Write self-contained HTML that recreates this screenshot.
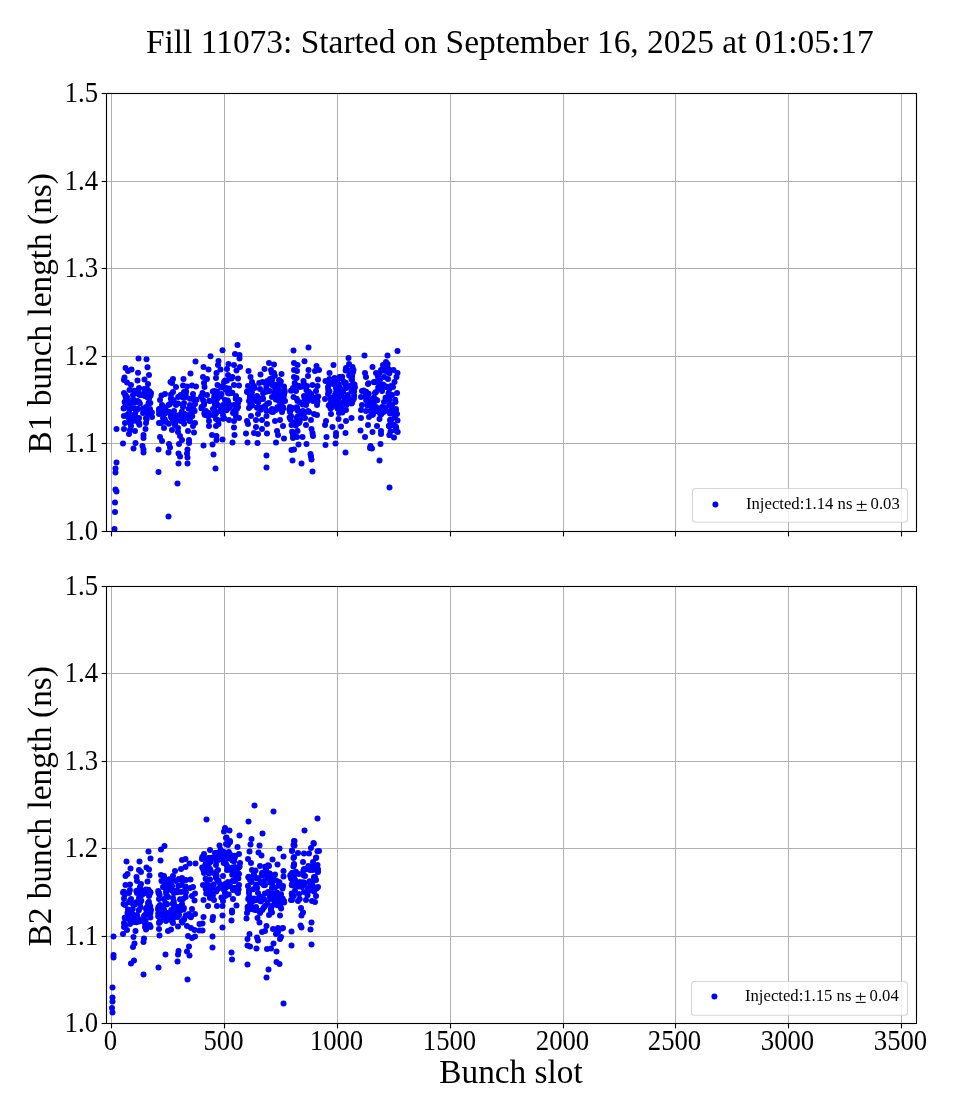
<!DOCTYPE html>
<html><head><meta charset="utf-8"><style>
html,body{margin:0;padding:0;width:960px;height:1120px;overflow:hidden;background:#fff}
svg text{font-family:"Liberation Serif",serif}
svg{will-change:transform}
</style></head><body>
<svg width="960" height="1120" viewBox="0 0 960 1120" style="position:absolute;left:0;top:0">
<rect width="960" height="1120" fill="#fff"/>
<text x="509.8" y="52.6" text-anchor="middle" font-size="33.45" fill="#000">Fill 11073: Started on September 16, 2025 at 01:05:17</text>
<clipPath id="cliptop"><rect x="106.5" y="93.5" width="810" height="438.0"/></clipPath>
<g stroke="#b0b0b0" stroke-width="1" shape-rendering="crispEdges">
<line x1="111.5" y1="93.5" x2="111.5" y2="531.5"/>
<line x1="224.5" y1="93.5" x2="224.5" y2="531.5"/>
<line x1="337.5" y1="93.5" x2="337.5" y2="531.5"/>
<line x1="450.5" y1="93.5" x2="450.5" y2="531.5"/>
<line x1="563.5" y1="93.5" x2="563.5" y2="531.5"/>
<line x1="675.5" y1="93.5" x2="675.5" y2="531.5"/>
<line x1="788.5" y1="93.5" x2="788.5" y2="531.5"/>
<line x1="901.5" y1="93.5" x2="901.5" y2="531.5"/>
<line x1="106.5" y1="93.5" x2="916.5" y2="93.5"/>
<line x1="106.5" y1="181.5" x2="916.5" y2="181.5"/>
<line x1="106.5" y1="268.5" x2="916.5" y2="268.5"/>
<line x1="106.5" y1="356.5" x2="916.5" y2="356.5"/>
<line x1="106.5" y1="443.5" x2="916.5" y2="443.5"/>
<line x1="106.5" y1="531.5" x2="916.5" y2="531.5"/>
</g>
<g fill="#0000ff" clip-path="url(#cliptop)">
<circle cx="138.5" cy="358.5" r="3.0"/>
<circle cx="146.5" cy="359.2" r="3.0"/>
<circle cx="147.5" cy="367.2" r="3.0"/>
<circle cx="125.5" cy="368.0" r="3.0"/>
<circle cx="128.0" cy="371.0" r="3.0"/>
<circle cx="131.5" cy="369.5" r="3.0"/>
<circle cx="138.0" cy="372.8" r="3.0"/>
<circle cx="149.0" cy="375.0" r="3.0"/>
<circle cx="137.5" cy="380.5" r="3.0"/>
<circle cx="144.5" cy="379.5" r="3.0"/>
<circle cx="124.5" cy="377.5" r="3.0"/>
<circle cx="124.0" cy="380.0" r="3.0"/>
<circle cx="127.0" cy="382.5" r="3.0"/>
<circle cx="131.0" cy="385.0" r="3.0"/>
<circle cx="148.0" cy="384.0" r="3.0"/>
<circle cx="139.0" cy="388.0" r="3.0"/>
<circle cx="147.0" cy="389.0" r="3.0"/>
<circle cx="129.5" cy="390.0" r="3.0"/>
<circle cx="124.0" cy="393.0" r="3.0"/>
<circle cx="151.0" cy="393.0" r="3.0"/>
<circle cx="140.0" cy="394.0" r="3.0"/>
<circle cx="127.0" cy="397.0" r="3.0"/>
<circle cx="133.0" cy="395.0" r="3.0"/>
<circle cx="149.0" cy="397.0" r="3.0"/>
<circle cx="126.0" cy="401.0" r="3.0"/>
<circle cx="134.0" cy="400.0" r="3.0"/>
<circle cx="139.0" cy="402.0" r="3.0"/>
<circle cx="149.0" cy="403.0" r="3.0"/>
<circle cx="130.0" cy="404.0" r="3.0"/>
<circle cx="124.0" cy="408.0" r="3.0"/>
<circle cx="132.0" cy="408.0" r="3.0"/>
<circle cx="138.0" cy="409.0" r="3.0"/>
<circle cx="146.0" cy="407.0" r="3.0"/>
<circle cx="150.0" cy="409.0" r="3.0"/>
<circle cx="127.0" cy="415.0" r="3.0"/>
<circle cx="135.0" cy="414.0" r="3.0"/>
<circle cx="143.0" cy="413.0" r="3.0"/>
<circle cx="150.0" cy="415.0" r="3.0"/>
<circle cx="152.0" cy="417.0" r="3.0"/>
<circle cx="131.0" cy="418.0" r="3.0"/>
<circle cx="139.0" cy="418.0" r="3.0"/>
<circle cx="146.0" cy="418.0" r="3.0"/>
<circle cx="125.0" cy="423.0" r="3.0"/>
<circle cx="133.0" cy="421.0" r="3.0"/>
<circle cx="139.0" cy="423.0" r="3.0"/>
<circle cx="146.0" cy="423.0" r="3.0"/>
<circle cx="131.0" cy="426.0" r="3.0"/>
<circle cx="124.0" cy="429.0" r="3.0"/>
<circle cx="130.0" cy="430.0" r="3.0"/>
<circle cx="135.0" cy="431.0" r="3.0"/>
<circle cx="129.0" cy="434.0" r="3.0"/>
<circle cx="145.5" cy="429.0" r="3.0"/>
<circle cx="143.5" cy="435.0" r="3.0"/>
<circle cx="143.5" cy="438.0" r="3.0"/>
<circle cx="116.5" cy="429.0" r="3.0"/>
<circle cx="123.0" cy="443.5" r="3.0"/>
<circle cx="135.5" cy="443.0" r="3.0"/>
<circle cx="142.5" cy="446.0" r="3.0"/>
<circle cx="195.5" cy="361.5" r="3.0"/>
<circle cx="190.5" cy="373.5" r="3.0"/>
<circle cx="173.0" cy="379.0" r="3.0"/>
<circle cx="170.5" cy="382.0" r="3.0"/>
<circle cx="183.5" cy="379.0" r="3.0"/>
<circle cx="176.0" cy="387.0" r="3.0"/>
<circle cx="172.0" cy="383.0" r="3.0"/>
<circle cx="183.0" cy="385.5" r="3.0"/>
<circle cx="187.0" cy="386.5" r="3.0"/>
<circle cx="192.0" cy="385.5" r="3.0"/>
<circle cx="196.0" cy="386.5" r="3.0"/>
<circle cx="161.5" cy="395.5" r="3.0"/>
<circle cx="165.0" cy="394.0" r="3.0"/>
<circle cx="173.0" cy="392.0" r="3.0"/>
<circle cx="184.0" cy="392.0" r="3.0"/>
<circle cx="171.0" cy="394.5" r="3.0"/>
<circle cx="193.0" cy="394.0" r="3.0"/>
<circle cx="182.0" cy="397.0" r="3.0"/>
<circle cx="186.0" cy="397.0" r="3.0"/>
<circle cx="160.0" cy="400.0" r="3.0"/>
<circle cx="194.0" cy="399.0" r="3.0"/>
<circle cx="173.0" cy="400.0" r="3.0"/>
<circle cx="170.0" cy="404.0" r="3.0"/>
<circle cx="176.0" cy="405.0" r="3.0"/>
<circle cx="162.0" cy="405.0" r="3.0"/>
<circle cx="190.0" cy="405.0" r="3.0"/>
<circle cx="195.0" cy="404.0" r="3.0"/>
<circle cx="183.0" cy="407.0" r="3.0"/>
<circle cx="159.0" cy="409.0" r="3.0"/>
<circle cx="164.0" cy="408.0" r="3.0"/>
<circle cx="169.0" cy="412.0" r="3.0"/>
<circle cx="174.0" cy="411.0" r="3.0"/>
<circle cx="192.0" cy="411.0" r="3.0"/>
<circle cx="159.0" cy="414.0" r="3.0"/>
<circle cx="181.0" cy="414.0" r="3.0"/>
<circle cx="188.0" cy="415.0" r="3.0"/>
<circle cx="163.0" cy="418.0" r="3.0"/>
<circle cx="171.0" cy="417.0" r="3.0"/>
<circle cx="177.0" cy="418.0" r="3.0"/>
<circle cx="184.0" cy="419.0" r="3.0"/>
<circle cx="159.0" cy="423.0" r="3.0"/>
<circle cx="166.0" cy="422.0" r="3.0"/>
<circle cx="174.0" cy="422.0" r="3.0"/>
<circle cx="181.0" cy="421.0" r="3.0"/>
<circle cx="190.0" cy="421.0" r="3.0"/>
<circle cx="195.0" cy="423.0" r="3.0"/>
<circle cx="164.0" cy="428.0" r="3.0"/>
<circle cx="172.0" cy="430.0" r="3.0"/>
<circle cx="178.0" cy="428.0" r="3.0"/>
<circle cx="193.0" cy="426.0" r="3.0"/>
<circle cx="188.0" cy="431.0" r="3.0"/>
<circle cx="194.0" cy="432.5" r="3.0"/>
<circle cx="160.0" cy="437.0" r="3.0"/>
<circle cx="162.0" cy="441.0" r="3.0"/>
<circle cx="178.0" cy="432.0" r="3.0"/>
<circle cx="180.0" cy="436.0" r="3.0"/>
<circle cx="182.0" cy="440.0" r="3.0"/>
<circle cx="189.0" cy="440.0" r="3.0"/>
<circle cx="169.0" cy="444.0" r="3.0"/>
<circle cx="179.0" cy="444.0" r="3.0"/>
<circle cx="189.0" cy="443.0" r="3.0"/>
<circle cx="237.5" cy="345.0" r="3.0"/>
<circle cx="222.5" cy="350.2" r="3.0"/>
<circle cx="210.5" cy="356.2" r="3.0"/>
<circle cx="235.0" cy="354.0" r="3.0"/>
<circle cx="239.5" cy="355.0" r="3.0"/>
<circle cx="239.5" cy="358.5" r="3.0"/>
<circle cx="218.5" cy="361.0" r="3.0"/>
<circle cx="218.0" cy="365.0" r="3.0"/>
<circle cx="203.5" cy="367.0" r="3.0"/>
<circle cx="208.5" cy="369.5" r="3.0"/>
<circle cx="228.5" cy="364.0" r="3.0"/>
<circle cx="234.0" cy="365.0" r="3.0"/>
<circle cx="240.0" cy="367.0" r="3.0"/>
<circle cx="236.5" cy="370.5" r="3.0"/>
<circle cx="220.5" cy="369.5" r="3.0"/>
<circle cx="227.0" cy="369.0" r="3.0"/>
<circle cx="216.5" cy="373.0" r="3.0"/>
<circle cx="203.0" cy="377.0" r="3.0"/>
<circle cx="207.0" cy="379.0" r="3.0"/>
<circle cx="216.0" cy="378.0" r="3.0"/>
<circle cx="228.0" cy="375.0" r="3.0"/>
<circle cx="238.0" cy="378.5" r="3.0"/>
<circle cx="204.0" cy="383.0" r="3.0"/>
<circle cx="204.5" cy="387.0" r="3.0"/>
<circle cx="217.5" cy="385.0" r="3.0"/>
<circle cx="234.0" cy="385.0" r="3.0"/>
<circle cx="239.0" cy="385.5" r="3.0"/>
<circle cx="224.0" cy="382.0" r="3.0"/>
<circle cx="214.5" cy="391.0" r="3.0"/>
<circle cx="202.5" cy="393.0" r="3.0"/>
<circle cx="226.0" cy="388.0" r="3.0"/>
<circle cx="236.0" cy="396.0" r="3.0"/>
<circle cx="207.0" cy="395.0" r="3.0"/>
<circle cx="220.0" cy="395.0" r="3.0"/>
<circle cx="228.0" cy="393.0" r="3.0"/>
<circle cx="203.0" cy="400.0" r="3.0"/>
<circle cx="210.0" cy="401.0" r="3.0"/>
<circle cx="217.0" cy="399.0" r="3.0"/>
<circle cx="225.0" cy="400.0" r="3.0"/>
<circle cx="238.0" cy="403.0" r="3.0"/>
<circle cx="204.0" cy="405.0" r="3.0"/>
<circle cx="215.0" cy="405.0" r="3.0"/>
<circle cx="223.0" cy="405.0" r="3.0"/>
<circle cx="234.0" cy="405.0" r="3.0"/>
<circle cx="206.0" cy="411.0" r="3.0"/>
<circle cx="213.0" cy="409.0" r="3.0"/>
<circle cx="220.0" cy="411.0" r="3.0"/>
<circle cx="229.0" cy="408.0" r="3.0"/>
<circle cx="238.0" cy="407.0" r="3.0"/>
<circle cx="205.0" cy="415.0" r="3.0"/>
<circle cx="213.0" cy="415.0" r="3.0"/>
<circle cx="223.0" cy="415.0" r="3.0"/>
<circle cx="233.0" cy="413.0" r="3.0"/>
<circle cx="229.0" cy="420.0" r="3.0"/>
<circle cx="234.0" cy="421.0" r="3.0"/>
<circle cx="239.0" cy="418.0" r="3.0"/>
<circle cx="209.0" cy="421.0" r="3.0"/>
<circle cx="216.0" cy="419.0" r="3.0"/>
<circle cx="209.0" cy="426.0" r="3.0"/>
<circle cx="216.0" cy="426.0" r="3.0"/>
<circle cx="218.5" cy="424.0" r="3.0"/>
<circle cx="234.0" cy="427.5" r="3.0"/>
<circle cx="212.0" cy="435.0" r="3.0"/>
<circle cx="216.5" cy="436.0" r="3.0"/>
<circle cx="216.5" cy="440.0" r="3.0"/>
<circle cx="222.5" cy="439.5" r="3.0"/>
<circle cx="234.5" cy="435.0" r="3.0"/>
<circle cx="232.5" cy="442.5" r="3.0"/>
<circle cx="212.5" cy="444.5" r="3.0"/>
<circle cx="203.5" cy="445.5" r="3.0"/>
<circle cx="269.0" cy="363.0" r="3.0"/>
<circle cx="274.0" cy="364.5" r="3.0"/>
<circle cx="248.5" cy="371.0" r="3.0"/>
<circle cx="264.5" cy="369.0" r="3.0"/>
<circle cx="260.5" cy="374.5" r="3.0"/>
<circle cx="271.0" cy="370.0" r="3.0"/>
<circle cx="274.0" cy="373.0" r="3.0"/>
<circle cx="281.5" cy="374.0" r="3.0"/>
<circle cx="250.5" cy="377.0" r="3.0"/>
<circle cx="252.0" cy="382.0" r="3.0"/>
<circle cx="262.5" cy="382.0" r="3.0"/>
<circle cx="270.0" cy="379.0" r="3.0"/>
<circle cx="279.0" cy="380.0" r="3.0"/>
<circle cx="248.0" cy="386.0" r="3.0"/>
<circle cx="254.0" cy="386.0" r="3.0"/>
<circle cx="284.0" cy="386.5" r="3.0"/>
<circle cx="272.0" cy="385.0" r="3.0"/>
<circle cx="260.0" cy="389.0" r="3.0"/>
<circle cx="247.0" cy="392.0" r="3.0"/>
<circle cx="266.0" cy="391.0" r="3.0"/>
<circle cx="278.0" cy="391.0" r="3.0"/>
<circle cx="284.0" cy="395.0" r="3.0"/>
<circle cx="250.0" cy="395.0" r="3.0"/>
<circle cx="257.0" cy="396.0" r="3.0"/>
<circle cx="272.0" cy="397.0" r="3.0"/>
<circle cx="263.0" cy="399.0" r="3.0"/>
<circle cx="249.0" cy="401.0" r="3.0"/>
<circle cx="256.0" cy="401.0" r="3.0"/>
<circle cx="269.0" cy="403.0" r="3.0"/>
<circle cx="279.0" cy="401.0" r="3.0"/>
<circle cx="285.0" cy="401.0" r="3.0"/>
<circle cx="249.0" cy="408.0" r="3.0"/>
<circle cx="258.0" cy="407.0" r="3.0"/>
<circle cx="265.0" cy="406.0" r="3.0"/>
<circle cx="272.0" cy="409.0" r="3.0"/>
<circle cx="280.0" cy="409.0" r="3.0"/>
<circle cx="283.0" cy="407.0" r="3.0"/>
<circle cx="251.0" cy="416.0" r="3.0"/>
<circle cx="258.0" cy="414.0" r="3.0"/>
<circle cx="266.5" cy="416.0" r="3.0"/>
<circle cx="273.0" cy="412.0" r="3.0"/>
<circle cx="282.0" cy="412.0" r="3.0"/>
<circle cx="247.0" cy="421.0" r="3.0"/>
<circle cx="248.0" cy="424.0" r="3.0"/>
<circle cx="256.0" cy="420.0" r="3.0"/>
<circle cx="262.0" cy="420.0" r="3.0"/>
<circle cx="267.0" cy="424.0" r="3.0"/>
<circle cx="275.0" cy="421.0" r="3.0"/>
<circle cx="280.0" cy="420.0" r="3.0"/>
<circle cx="283.0" cy="426.0" r="3.0"/>
<circle cx="256.0" cy="427.0" r="3.0"/>
<circle cx="262.0" cy="429.0" r="3.0"/>
<circle cx="254.0" cy="433.0" r="3.0"/>
<circle cx="258.0" cy="434.0" r="3.0"/>
<circle cx="246.0" cy="433.5" r="3.0"/>
<circle cx="267.0" cy="433.5" r="3.0"/>
<circle cx="277.0" cy="431.0" r="3.0"/>
<circle cx="278.0" cy="435.0" r="3.0"/>
<circle cx="284.0" cy="438.5" r="3.0"/>
<circle cx="247.5" cy="442.5" r="3.0"/>
<circle cx="257.5" cy="443.0" r="3.0"/>
<circle cx="276.0" cy="442.5" r="3.0"/>
<circle cx="293.5" cy="350.5" r="3.0"/>
<circle cx="294.0" cy="363.0" r="3.0"/>
<circle cx="294.0" cy="370.0" r="3.0"/>
<circle cx="294.0" cy="377.0" r="3.0"/>
<circle cx="293.0" cy="388.0" r="3.0"/>
<circle cx="293.5" cy="397.0" r="3.0"/>
<circle cx="292.5" cy="408.0" r="3.0"/>
<circle cx="291.0" cy="416.0" r="3.0"/>
<circle cx="291.5" cy="425.0" r="3.0"/>
<circle cx="293.0" cy="438.0" r="3.0"/>
<circle cx="308.5" cy="347.5" r="3.0"/>
<circle cx="304.5" cy="361.2" r="3.0"/>
<circle cx="297.5" cy="365.0" r="3.0"/>
<circle cx="316.5" cy="366.0" r="3.0"/>
<circle cx="297.0" cy="371.0" r="3.0"/>
<circle cx="308.5" cy="370.0" r="3.0"/>
<circle cx="315.0" cy="371.0" r="3.0"/>
<circle cx="319.0" cy="370.0" r="3.0"/>
<circle cx="308.0" cy="376.0" r="3.0"/>
<circle cx="296.5" cy="378.0" r="3.0"/>
<circle cx="318.0" cy="379.5" r="3.0"/>
<circle cx="303.5" cy="381.0" r="3.0"/>
<circle cx="300.0" cy="387.0" r="3.0"/>
<circle cx="307.0" cy="386.0" r="3.0"/>
<circle cx="312.5" cy="385.0" r="3.0"/>
<circle cx="317.5" cy="386.0" r="3.0"/>
<circle cx="296.0" cy="391.0" r="3.0"/>
<circle cx="309.0" cy="392.0" r="3.0"/>
<circle cx="316.0" cy="391.0" r="3.0"/>
<circle cx="304.0" cy="396.0" r="3.0"/>
<circle cx="317.0" cy="399.0" r="3.0"/>
<circle cx="297.5" cy="401.0" r="3.0"/>
<circle cx="313.0" cy="401.0" r="3.0"/>
<circle cx="306.0" cy="405.0" r="3.0"/>
<circle cx="317.0" cy="405.0" r="3.0"/>
<circle cx="297.0" cy="408.0" r="3.0"/>
<circle cx="302.0" cy="412.0" r="3.0"/>
<circle cx="308.0" cy="411.0" r="3.0"/>
<circle cx="314.0" cy="414.0" r="3.0"/>
<circle cx="317.0" cy="415.0" r="3.0"/>
<circle cx="298.0" cy="416.0" r="3.0"/>
<circle cx="305.0" cy="418.0" r="3.0"/>
<circle cx="311.0" cy="420.0" r="3.0"/>
<circle cx="299.0" cy="423.0" r="3.0"/>
<circle cx="306.0" cy="425.0" r="3.0"/>
<circle cx="311.5" cy="429.0" r="3.0"/>
<circle cx="312.5" cy="433.0" r="3.0"/>
<circle cx="313.0" cy="436.0" r="3.0"/>
<circle cx="297.5" cy="431.0" r="3.0"/>
<circle cx="297.0" cy="437.0" r="3.0"/>
<circle cx="302.5" cy="437.0" r="3.0"/>
<circle cx="298.5" cy="444.5" r="3.0"/>
<circle cx="306.5" cy="444.0" r="3.0"/>
<circle cx="333.5" cy="365.0" r="3.0"/>
<circle cx="348.5" cy="358.0" r="3.0"/>
<circle cx="349.0" cy="364.0" r="3.0"/>
<circle cx="346.0" cy="368.0" r="3.0"/>
<circle cx="352.5" cy="367.0" r="3.0"/>
<circle cx="329.5" cy="373.0" r="3.0"/>
<circle cx="350.0" cy="374.0" r="3.0"/>
<circle cx="325.5" cy="381.0" r="3.0"/>
<circle cx="329.5" cy="379.0" r="3.0"/>
<circle cx="334.5" cy="378.0" r="3.0"/>
<circle cx="339.5" cy="377.0" r="3.0"/>
<circle cx="344.0" cy="382.0" r="3.0"/>
<circle cx="352.0" cy="380.0" r="3.0"/>
<circle cx="328.0" cy="387.0" r="3.0"/>
<circle cx="333.0" cy="384.0" r="3.0"/>
<circle cx="339.0" cy="387.0" r="3.0"/>
<circle cx="350.0" cy="386.0" r="3.0"/>
<circle cx="353.0" cy="384.0" r="3.0"/>
<circle cx="328.0" cy="394.0" r="3.0"/>
<circle cx="336.0" cy="393.0" r="3.0"/>
<circle cx="342.0" cy="391.0" r="3.0"/>
<circle cx="348.0" cy="397.0" r="3.0"/>
<circle cx="353.0" cy="400.0" r="3.0"/>
<circle cx="325.0" cy="399.0" r="3.0"/>
<circle cx="331.0" cy="401.0" r="3.0"/>
<circle cx="338.0" cy="400.0" r="3.0"/>
<circle cx="345.0" cy="402.0" r="3.0"/>
<circle cx="352.0" cy="403.0" r="3.0"/>
<circle cx="332.0" cy="407.0" r="3.0"/>
<circle cx="339.0" cy="406.0" r="3.0"/>
<circle cx="346.0" cy="410.0" r="3.0"/>
<circle cx="331.0" cy="414.0" r="3.0"/>
<circle cx="339.0" cy="413.0" r="3.0"/>
<circle cx="326.0" cy="421.0" r="3.0"/>
<circle cx="325.0" cy="425.0" r="3.0"/>
<circle cx="338.5" cy="419.0" r="3.0"/>
<circle cx="346.0" cy="421.0" r="3.0"/>
<circle cx="351.5" cy="418.0" r="3.0"/>
<circle cx="332.5" cy="427.0" r="3.0"/>
<circle cx="341.0" cy="426.5" r="3.0"/>
<circle cx="336.0" cy="433.0" r="3.0"/>
<circle cx="336.0" cy="436.0" r="3.0"/>
<circle cx="345.5" cy="433.0" r="3.0"/>
<circle cx="326.5" cy="437.0" r="3.0"/>
<circle cx="325.5" cy="445.0" r="3.0"/>
<circle cx="335.5" cy="443.5" r="3.0"/>
<circle cx="364.5" cy="355.5" r="3.0"/>
<circle cx="387.5" cy="355.5" r="3.0"/>
<circle cx="372.5" cy="367.0" r="3.0"/>
<circle cx="386.0" cy="362.0" r="3.0"/>
<circle cx="383.0" cy="365.0" r="3.0"/>
<circle cx="389.5" cy="370.0" r="3.0"/>
<circle cx="365.0" cy="373.0" r="3.0"/>
<circle cx="366.0" cy="377.0" r="3.0"/>
<circle cx="376.0" cy="373.0" r="3.0"/>
<circle cx="381.0" cy="370.0" r="3.0"/>
<circle cx="384.0" cy="377.0" r="3.0"/>
<circle cx="388.0" cy="379.0" r="3.0"/>
<circle cx="368.0" cy="384.0" r="3.0"/>
<circle cx="374.0" cy="382.0" r="3.0"/>
<circle cx="380.0" cy="385.0" r="3.0"/>
<circle cx="386.0" cy="387.0" r="3.0"/>
<circle cx="362.0" cy="391.0" r="3.0"/>
<circle cx="366.0" cy="395.0" r="3.0"/>
<circle cx="375.0" cy="393.0" r="3.0"/>
<circle cx="382.0" cy="391.0" r="3.0"/>
<circle cx="391.0" cy="386.0" r="3.0"/>
<circle cx="391.0" cy="395.0" r="3.0"/>
<circle cx="361.0" cy="397.0" r="3.0"/>
<circle cx="369.0" cy="399.0" r="3.0"/>
<circle cx="375.0" cy="399.0" r="3.0"/>
<circle cx="384.0" cy="402.0" r="3.0"/>
<circle cx="362.0" cy="405.0" r="3.0"/>
<circle cx="368.0" cy="405.0" r="3.0"/>
<circle cx="376.0" cy="407.0" r="3.0"/>
<circle cx="382.0" cy="407.0" r="3.0"/>
<circle cx="390.0" cy="405.0" r="3.0"/>
<circle cx="361.0" cy="410.0" r="3.0"/>
<circle cx="366.0" cy="411.0" r="3.0"/>
<circle cx="372.0" cy="412.0" r="3.0"/>
<circle cx="379.0" cy="412.0" r="3.0"/>
<circle cx="390.0" cy="411.0" r="3.0"/>
<circle cx="361.0" cy="418.0" r="3.0"/>
<circle cx="369.0" cy="417.0" r="3.0"/>
<circle cx="379.5" cy="419.0" r="3.0"/>
<circle cx="390.0" cy="420.0" r="3.0"/>
<circle cx="368.0" cy="425.0" r="3.0"/>
<circle cx="377.0" cy="426.0" r="3.0"/>
<circle cx="389.0" cy="426.0" r="3.0"/>
<circle cx="360.5" cy="430.5" r="3.0"/>
<circle cx="372.5" cy="432.0" r="3.0"/>
<circle cx="381.0" cy="431.0" r="3.0"/>
<circle cx="381.0" cy="434.0" r="3.0"/>
<circle cx="365.0" cy="437.0" r="3.0"/>
<circle cx="389.5" cy="435.0" r="3.0"/>
<circle cx="370.5" cy="446.0" r="3.0"/>
<circle cx="380.5" cy="444.0" r="3.0"/>
<circle cx="397.5" cy="351.0" r="3.0"/>
<circle cx="393.5" cy="370.0" r="3.0"/>
<circle cx="397.5" cy="373.0" r="3.0"/>
<circle cx="396.5" cy="377.0" r="3.0"/>
<circle cx="394.5" cy="382.0" r="3.0"/>
<circle cx="393.0" cy="387.0" r="3.0"/>
<circle cx="397.0" cy="393.0" r="3.0"/>
<circle cx="392.0" cy="395.0" r="3.0"/>
<circle cx="395.5" cy="402.0" r="3.0"/>
<circle cx="392.0" cy="405.0" r="3.0"/>
<circle cx="396.0" cy="409.0" r="3.0"/>
<circle cx="391.0" cy="412.0" r="3.0"/>
<circle cx="397.0" cy="414.0" r="3.0"/>
<circle cx="391.0" cy="420.0" r="3.0"/>
<circle cx="397.5" cy="420.5" r="3.0"/>
<circle cx="394.0" cy="425.0" r="3.0"/>
<circle cx="389.0" cy="426.0" r="3.0"/>
<circle cx="395.5" cy="430.5" r="3.0"/>
<circle cx="389.5" cy="435.0" r="3.0"/>
<circle cx="394.0" cy="437.5" r="3.0"/>
<circle cx="133.5" cy="448.5" r="3.0"/>
<circle cx="143.5" cy="449.5" r="3.0"/>
<circle cx="143.5" cy="452.5" r="3.0"/>
<circle cx="158.5" cy="449.5" r="3.0"/>
<circle cx="168.5" cy="452.5" r="3.0"/>
<circle cx="170.0" cy="447.5" r="3.0"/>
<circle cx="178.5" cy="453.5" r="3.0"/>
<circle cx="180.0" cy="456.5" r="3.0"/>
<circle cx="187.5" cy="449.5" r="3.0"/>
<circle cx="187.0" cy="453.5" r="3.0"/>
<circle cx="187.5" cy="457.5" r="3.0"/>
<circle cx="178.5" cy="463.5" r="3.0"/>
<circle cx="187.5" cy="463.5" r="3.0"/>
<circle cx="116.5" cy="462.5" r="3.0"/>
<circle cx="115.5" cy="468.5" r="3.0"/>
<circle cx="115.5" cy="472.5" r="3.0"/>
<circle cx="158.5" cy="472.0" r="3.0"/>
<circle cx="177.5" cy="483.5" r="3.0"/>
<circle cx="115.5" cy="489.5" r="3.0"/>
<circle cx="116.5" cy="491.5" r="3.0"/>
<circle cx="115.0" cy="502.5" r="3.0"/>
<circle cx="115.0" cy="512.0" r="3.0"/>
<circle cx="168.5" cy="516.5" r="3.0"/>
<circle cx="114.5" cy="529.0" r="3.0"/>
<circle cx="213.5" cy="454.5" r="3.0"/>
<circle cx="215.5" cy="468.5" r="3.0"/>
<circle cx="266.5" cy="455.5" r="3.0"/>
<circle cx="266.5" cy="467.5" r="3.0"/>
<circle cx="291.5" cy="450.0" r="3.0"/>
<circle cx="294.0" cy="449.5" r="3.0"/>
<circle cx="292.5" cy="460.5" r="3.0"/>
<circle cx="310.5" cy="454.0" r="3.0"/>
<circle cx="311.0" cy="456.5" r="3.0"/>
<circle cx="311.5" cy="459.5" r="3.0"/>
<circle cx="301.5" cy="463.5" r="3.0"/>
<circle cx="312.5" cy="471.5" r="3.0"/>
<circle cx="345.5" cy="452.5" r="3.0"/>
<circle cx="370.0" cy="448.0" r="3.0"/>
<circle cx="372.0" cy="448.5" r="3.0"/>
<circle cx="379.5" cy="460.5" r="3.0"/>
<circle cx="389.5" cy="487.5" r="3.0"/>
<circle cx="125.6" cy="396.7" r="3.0"/>
<circle cx="147.0" cy="410.9" r="3.0"/>
<circle cx="125.8" cy="404.8" r="3.0"/>
<circle cx="137.4" cy="393.5" r="3.0"/>
<circle cx="145.0" cy="391.7" r="3.0"/>
<circle cx="134.7" cy="408.2" r="3.0"/>
<circle cx="135.9" cy="411.1" r="3.0"/>
<circle cx="132.0" cy="399.9" r="3.0"/>
<circle cx="149.8" cy="411.0" r="3.0"/>
<circle cx="137.1" cy="418.7" r="3.0"/>
<circle cx="123.9" cy="416.0" r="3.0"/>
<circle cx="134.2" cy="390.7" r="3.0"/>
<circle cx="129.2" cy="412.8" r="3.0"/>
<circle cx="131.9" cy="417.4" r="3.0"/>
<circle cx="144.7" cy="396.0" r="3.0"/>
<circle cx="147.9" cy="414.0" r="3.0"/>
<circle cx="135.9" cy="418.1" r="3.0"/>
<circle cx="149.4" cy="391.2" r="3.0"/>
<circle cx="148.5" cy="403.2" r="3.0"/>
<circle cx="137.4" cy="393.0" r="3.0"/>
<circle cx="149.1" cy="398.3" r="3.0"/>
<circle cx="139.9" cy="403.4" r="3.0"/>
<circle cx="141.4" cy="395.1" r="3.0"/>
<circle cx="128.4" cy="417.6" r="3.0"/>
<circle cx="145.6" cy="410.2" r="3.0"/>
<circle cx="150.6" cy="395.4" r="3.0"/>
<circle cx="148.5" cy="393.9" r="3.0"/>
<circle cx="151.9" cy="412.6" r="3.0"/>
<circle cx="146.6" cy="419.4" r="3.0"/>
<circle cx="124.6" cy="402.1" r="3.0"/>
<circle cx="125.5" cy="394.9" r="3.0"/>
<circle cx="129.4" cy="422.2" r="3.0"/>
<circle cx="126.8" cy="399.2" r="3.0"/>
<circle cx="137.8" cy="421.8" r="3.0"/>
<circle cx="129.4" cy="409.3" r="3.0"/>
<circle cx="144.2" cy="389.1" r="3.0"/>
<circle cx="143.1" cy="408.4" r="3.0"/>
<circle cx="139.6" cy="395.1" r="3.0"/>
<circle cx="137.9" cy="392.1" r="3.0"/>
<circle cx="137.4" cy="409.0" r="3.0"/>
<circle cx="123.6" cy="408.6" r="3.0"/>
<circle cx="129.2" cy="417.4" r="3.0"/>
<circle cx="134.7" cy="402.6" r="3.0"/>
<circle cx="150.3" cy="403.1" r="3.0"/>
<circle cx="133.5" cy="401.3" r="3.0"/>
<circle cx="137.4" cy="390.8" r="3.0"/>
<circle cx="139.4" cy="424.8" r="3.0"/>
<circle cx="147.6" cy="397.4" r="3.0"/>
<circle cx="137.5" cy="401.1" r="3.0"/>
<circle cx="168.2" cy="412.1" r="3.0"/>
<circle cx="170.4" cy="413.9" r="3.0"/>
<circle cx="180.7" cy="394.9" r="3.0"/>
<circle cx="185.6" cy="394.3" r="3.0"/>
<circle cx="164.6" cy="410.0" r="3.0"/>
<circle cx="173.8" cy="415.6" r="3.0"/>
<circle cx="171.0" cy="398.3" r="3.0"/>
<circle cx="194.3" cy="400.0" r="3.0"/>
<circle cx="171.2" cy="399.3" r="3.0"/>
<circle cx="162.9" cy="406.4" r="3.0"/>
<circle cx="184.1" cy="423.7" r="3.0"/>
<circle cx="160.1" cy="412.8" r="3.0"/>
<circle cx="164.8" cy="419.4" r="3.0"/>
<circle cx="194.6" cy="410.9" r="3.0"/>
<circle cx="174.2" cy="422.4" r="3.0"/>
<circle cx="173.8" cy="400.8" r="3.0"/>
<circle cx="172.5" cy="419.3" r="3.0"/>
<circle cx="177.3" cy="420.0" r="3.0"/>
<circle cx="178.1" cy="396.9" r="3.0"/>
<circle cx="175.3" cy="423.3" r="3.0"/>
<circle cx="188.0" cy="416.4" r="3.0"/>
<circle cx="179.9" cy="415.6" r="3.0"/>
<circle cx="192.2" cy="416.3" r="3.0"/>
<circle cx="184.0" cy="403.0" r="3.0"/>
<circle cx="184.1" cy="413.8" r="3.0"/>
<circle cx="188.7" cy="408.8" r="3.0"/>
<circle cx="159.1" cy="410.9" r="3.0"/>
<circle cx="191.4" cy="414.7" r="3.0"/>
<circle cx="183.1" cy="405.5" r="3.0"/>
<circle cx="171.9" cy="417.6" r="3.0"/>
<circle cx="161.0" cy="423.1" r="3.0"/>
<circle cx="192.9" cy="405.8" r="3.0"/>
<circle cx="168.5" cy="405.1" r="3.0"/>
<circle cx="183.7" cy="397.0" r="3.0"/>
<circle cx="177.0" cy="415.4" r="3.0"/>
<circle cx="186.1" cy="391.5" r="3.0"/>
<circle cx="168.9" cy="423.8" r="3.0"/>
<circle cx="166.3" cy="411.1" r="3.0"/>
<circle cx="164.6" cy="413.8" r="3.0"/>
<circle cx="163.3" cy="414.1" r="3.0"/>
<circle cx="192.8" cy="398.4" r="3.0"/>
<circle cx="174.2" cy="417.4" r="3.0"/>
<circle cx="182.9" cy="415.7" r="3.0"/>
<circle cx="171.8" cy="415.1" r="3.0"/>
<circle cx="180.5" cy="416.8" r="3.0"/>
<circle cx="178.0" cy="403.4" r="3.0"/>
<circle cx="174.9" cy="425.1" r="3.0"/>
<circle cx="196.6" cy="399.7" r="3.0"/>
<circle cx="190.0" cy="398.8" r="3.0"/>
<circle cx="192.2" cy="408.2" r="3.0"/>
<circle cx="189.5" cy="420.7" r="3.0"/>
<circle cx="193.5" cy="409.5" r="3.0"/>
<circle cx="181.8" cy="411.8" r="3.0"/>
<circle cx="165.4" cy="409.6" r="3.0"/>
<circle cx="201.9" cy="406.8" r="3.0"/>
<circle cx="206.6" cy="413.2" r="3.0"/>
<circle cx="239.4" cy="400.0" r="3.0"/>
<circle cx="216.3" cy="399.5" r="3.0"/>
<circle cx="234.2" cy="410.8" r="3.0"/>
<circle cx="235.7" cy="398.7" r="3.0"/>
<circle cx="226.5" cy="410.2" r="3.0"/>
<circle cx="222.8" cy="386.0" r="3.0"/>
<circle cx="201.4" cy="408.2" r="3.0"/>
<circle cx="202.9" cy="394.2" r="3.0"/>
<circle cx="214.2" cy="397.2" r="3.0"/>
<circle cx="218.1" cy="420.2" r="3.0"/>
<circle cx="214.3" cy="409.9" r="3.0"/>
<circle cx="201.1" cy="396.5" r="3.0"/>
<circle cx="228.1" cy="405.2" r="3.0"/>
<circle cx="217.0" cy="404.5" r="3.0"/>
<circle cx="237.2" cy="408.6" r="3.0"/>
<circle cx="225.2" cy="410.1" r="3.0"/>
<circle cx="212.8" cy="391.5" r="3.0"/>
<circle cx="218.0" cy="405.4" r="3.0"/>
<circle cx="231.4" cy="378.4" r="3.0"/>
<circle cx="217.7" cy="397.5" r="3.0"/>
<circle cx="209.2" cy="400.7" r="3.0"/>
<circle cx="237.2" cy="399.3" r="3.0"/>
<circle cx="204.5" cy="413.1" r="3.0"/>
<circle cx="235.7" cy="412.8" r="3.0"/>
<circle cx="227.7" cy="400.5" r="3.0"/>
<circle cx="204.0" cy="403.6" r="3.0"/>
<circle cx="230.3" cy="405.2" r="3.0"/>
<circle cx="216.9" cy="391.4" r="3.0"/>
<circle cx="214.9" cy="403.4" r="3.0"/>
<circle cx="232.3" cy="392.8" r="3.0"/>
<circle cx="220.7" cy="396.6" r="3.0"/>
<circle cx="208.3" cy="416.2" r="3.0"/>
<circle cx="214.5" cy="395.2" r="3.0"/>
<circle cx="229.1" cy="393.4" r="3.0"/>
<circle cx="221.3" cy="394.0" r="3.0"/>
<circle cx="224.1" cy="418.3" r="3.0"/>
<circle cx="216.0" cy="413.5" r="3.0"/>
<circle cx="228.2" cy="402.2" r="3.0"/>
<circle cx="204.5" cy="413.9" r="3.0"/>
<circle cx="225.5" cy="389.5" r="3.0"/>
<circle cx="232.4" cy="376.9" r="3.0"/>
<circle cx="208.5" cy="412.9" r="3.0"/>
<circle cx="221.1" cy="409.1" r="3.0"/>
<circle cx="223.1" cy="418.7" r="3.0"/>
<circle cx="229.0" cy="388.5" r="3.0"/>
<circle cx="226.9" cy="380.7" r="3.0"/>
<circle cx="221.0" cy="387.6" r="3.0"/>
<circle cx="236.0" cy="416.6" r="3.0"/>
<circle cx="231.5" cy="393.0" r="3.0"/>
<circle cx="215.8" cy="400.2" r="3.0"/>
<circle cx="229.8" cy="377.9" r="3.0"/>
<circle cx="225.1" cy="380.5" r="3.0"/>
<circle cx="216.6" cy="394.2" r="3.0"/>
<circle cx="275.3" cy="410.3" r="3.0"/>
<circle cx="262.1" cy="407.5" r="3.0"/>
<circle cx="266.2" cy="385.0" r="3.0"/>
<circle cx="277.3" cy="407.2" r="3.0"/>
<circle cx="251.8" cy="392.2" r="3.0"/>
<circle cx="267.2" cy="380.9" r="3.0"/>
<circle cx="278.2" cy="385.7" r="3.0"/>
<circle cx="253.3" cy="397.1" r="3.0"/>
<circle cx="251.3" cy="390.7" r="3.0"/>
<circle cx="284.6" cy="392.2" r="3.0"/>
<circle cx="283.2" cy="408.6" r="3.0"/>
<circle cx="271.8" cy="372.8" r="3.0"/>
<circle cx="258.3" cy="402.1" r="3.0"/>
<circle cx="267.2" cy="403.7" r="3.0"/>
<circle cx="271.6" cy="411.8" r="3.0"/>
<circle cx="265.0" cy="406.7" r="3.0"/>
<circle cx="278.9" cy="395.2" r="3.0"/>
<circle cx="266.3" cy="388.5" r="3.0"/>
<circle cx="271.8" cy="378.4" r="3.0"/>
<circle cx="250.3" cy="404.6" r="3.0"/>
<circle cx="281.0" cy="405.9" r="3.0"/>
<circle cx="274.3" cy="396.0" r="3.0"/>
<circle cx="250.8" cy="402.1" r="3.0"/>
<circle cx="274.4" cy="392.8" r="3.0"/>
<circle cx="272.1" cy="379.9" r="3.0"/>
<circle cx="252.6" cy="387.9" r="3.0"/>
<circle cx="275.1" cy="388.4" r="3.0"/>
<circle cx="262.7" cy="398.1" r="3.0"/>
<circle cx="279.0" cy="389.9" r="3.0"/>
<circle cx="280.1" cy="404.9" r="3.0"/>
<circle cx="280.0" cy="384.3" r="3.0"/>
<circle cx="263.1" cy="393.3" r="3.0"/>
<circle cx="251.0" cy="391.4" r="3.0"/>
<circle cx="258.1" cy="400.7" r="3.0"/>
<circle cx="269.7" cy="390.9" r="3.0"/>
<circle cx="275.8" cy="399.4" r="3.0"/>
<circle cx="258.2" cy="407.7" r="3.0"/>
<circle cx="260.9" cy="398.7" r="3.0"/>
<circle cx="283.8" cy="391.9" r="3.0"/>
<circle cx="251.5" cy="395.7" r="3.0"/>
<circle cx="252.0" cy="405.6" r="3.0"/>
<circle cx="252.0" cy="388.8" r="3.0"/>
<circle cx="256.9" cy="407.7" r="3.0"/>
<circle cx="266.5" cy="410.7" r="3.0"/>
<circle cx="266.3" cy="391.8" r="3.0"/>
<circle cx="259.2" cy="383.1" r="3.0"/>
<circle cx="249.6" cy="391.6" r="3.0"/>
<circle cx="279.2" cy="407.3" r="3.0"/>
<circle cx="250.7" cy="405.9" r="3.0"/>
<circle cx="283.6" cy="397.9" r="3.0"/>
<circle cx="284.6" cy="390.5" r="3.0"/>
<circle cx="260.8" cy="409.8" r="3.0"/>
<circle cx="247.3" cy="391.3" r="3.0"/>
<circle cx="281.2" cy="399.3" r="3.0"/>
<circle cx="249.9" cy="397.7" r="3.0"/>
<circle cx="254.5" cy="387.9" r="3.0"/>
<circle cx="251.6" cy="398.5" r="3.0"/>
<circle cx="274.8" cy="375.7" r="3.0"/>
<circle cx="270.5" cy="382.7" r="3.0"/>
<circle cx="280.8" cy="381.4" r="3.0"/>
<circle cx="283.7" cy="401.1" r="3.0"/>
<circle cx="283.3" cy="395.1" r="3.0"/>
<circle cx="275.6" cy="384.7" r="3.0"/>
<circle cx="310.9" cy="395.9" r="3.0"/>
<circle cx="304.3" cy="412.8" r="3.0"/>
<circle cx="305.0" cy="399.3" r="3.0"/>
<circle cx="303.7" cy="383.3" r="3.0"/>
<circle cx="303.4" cy="417.6" r="3.0"/>
<circle cx="299.8" cy="421.1" r="3.0"/>
<circle cx="302.4" cy="413.3" r="3.0"/>
<circle cx="297.8" cy="420.1" r="3.0"/>
<circle cx="315.9" cy="397.2" r="3.0"/>
<circle cx="296.6" cy="417.8" r="3.0"/>
<circle cx="298.4" cy="385.8" r="3.0"/>
<circle cx="306.5" cy="390.2" r="3.0"/>
<circle cx="318.2" cy="396.6" r="3.0"/>
<circle cx="302.6" cy="404.4" r="3.0"/>
<circle cx="309.5" cy="398.3" r="3.0"/>
<circle cx="302.8" cy="410.9" r="3.0"/>
<circle cx="302.9" cy="386.4" r="3.0"/>
<circle cx="307.4" cy="395.8" r="3.0"/>
<circle cx="299.7" cy="402.3" r="3.0"/>
<circle cx="311.2" cy="394.0" r="3.0"/>
<circle cx="297.3" cy="410.1" r="3.0"/>
<circle cx="309.0" cy="412.1" r="3.0"/>
<circle cx="317.5" cy="401.5" r="3.0"/>
<circle cx="307.8" cy="401.1" r="3.0"/>
<circle cx="305.8" cy="399.9" r="3.0"/>
<circle cx="304.7" cy="398.5" r="3.0"/>
<circle cx="334.9" cy="404.2" r="3.0"/>
<circle cx="337.5" cy="408.5" r="3.0"/>
<circle cx="341.3" cy="395.9" r="3.0"/>
<circle cx="329.5" cy="391.2" r="3.0"/>
<circle cx="351.5" cy="391.2" r="3.0"/>
<circle cx="332.4" cy="382.3" r="3.0"/>
<circle cx="337.7" cy="383.1" r="3.0"/>
<circle cx="339.1" cy="388.2" r="3.0"/>
<circle cx="354.1" cy="395.6" r="3.0"/>
<circle cx="335.9" cy="386.7" r="3.0"/>
<circle cx="345.8" cy="382.7" r="3.0"/>
<circle cx="336.1" cy="388.7" r="3.0"/>
<circle cx="336.4" cy="400.9" r="3.0"/>
<circle cx="353.5" cy="370.1" r="3.0"/>
<circle cx="351.3" cy="403.4" r="3.0"/>
<circle cx="328.2" cy="389.9" r="3.0"/>
<circle cx="347.7" cy="395.1" r="3.0"/>
<circle cx="337.3" cy="378.8" r="3.0"/>
<circle cx="335.2" cy="382.7" r="3.0"/>
<circle cx="338.8" cy="384.6" r="3.0"/>
<circle cx="351.6" cy="377.2" r="3.0"/>
<circle cx="354.9" cy="387.2" r="3.0"/>
<circle cx="354.5" cy="384.4" r="3.0"/>
<circle cx="329.8" cy="404.4" r="3.0"/>
<circle cx="351.4" cy="378.7" r="3.0"/>
<circle cx="334.5" cy="395.6" r="3.0"/>
<circle cx="339.6" cy="395.8" r="3.0"/>
<circle cx="349.1" cy="375.6" r="3.0"/>
<circle cx="332.0" cy="398.8" r="3.0"/>
<circle cx="347.0" cy="399.7" r="3.0"/>
<circle cx="339.5" cy="404.1" r="3.0"/>
<circle cx="342.3" cy="412.4" r="3.0"/>
<circle cx="339.7" cy="390.0" r="3.0"/>
<circle cx="353.0" cy="372.2" r="3.0"/>
<circle cx="343.1" cy="391.9" r="3.0"/>
<circle cx="347.6" cy="370.2" r="3.0"/>
<circle cx="344.8" cy="397.9" r="3.0"/>
<circle cx="345.6" cy="370.4" r="3.0"/>
<circle cx="334.2" cy="380.2" r="3.0"/>
<circle cx="343.6" cy="401.5" r="3.0"/>
<circle cx="346.2" cy="388.1" r="3.0"/>
<circle cx="347.6" cy="400.4" r="3.0"/>
<circle cx="341.0" cy="406.2" r="3.0"/>
<circle cx="354.1" cy="391.5" r="3.0"/>
<circle cx="353.9" cy="398.5" r="3.0"/>
<circle cx="336.6" cy="391.4" r="3.0"/>
<circle cx="344.7" cy="383.5" r="3.0"/>
<circle cx="352.7" cy="386.9" r="3.0"/>
<circle cx="343.7" cy="410.1" r="3.0"/>
<circle cx="349.9" cy="401.0" r="3.0"/>
<circle cx="346.4" cy="405.1" r="3.0"/>
<circle cx="342.6" cy="389.2" r="3.0"/>
<circle cx="352.0" cy="375.9" r="3.0"/>
<circle cx="328.9" cy="383.3" r="3.0"/>
<circle cx="340.9" cy="411.3" r="3.0"/>
<circle cx="341.6" cy="378.6" r="3.0"/>
<circle cx="328.7" cy="405.6" r="3.0"/>
<circle cx="342.1" cy="376.8" r="3.0"/>
<circle cx="335.1" cy="404.0" r="3.0"/>
<circle cx="330.6" cy="397.8" r="3.0"/>
<circle cx="341.0" cy="394.0" r="3.0"/>
<circle cx="330.5" cy="408.4" r="3.0"/>
<circle cx="377.2" cy="400.2" r="3.0"/>
<circle cx="379.8" cy="380.3" r="3.0"/>
<circle cx="383.1" cy="384.5" r="3.0"/>
<circle cx="388.7" cy="387.7" r="3.0"/>
<circle cx="372.8" cy="414.4" r="3.0"/>
<circle cx="370.2" cy="411.0" r="3.0"/>
<circle cx="369.8" cy="403.0" r="3.0"/>
<circle cx="379.1" cy="385.5" r="3.0"/>
<circle cx="373.4" cy="408.4" r="3.0"/>
<circle cx="367.5" cy="405.5" r="3.0"/>
<circle cx="372.2" cy="400.4" r="3.0"/>
<circle cx="385.5" cy="386.2" r="3.0"/>
<circle cx="373.8" cy="397.8" r="3.0"/>
<circle cx="372.6" cy="414.7" r="3.0"/>
<circle cx="389.2" cy="404.9" r="3.0"/>
<circle cx="383.7" cy="365.8" r="3.0"/>
<circle cx="370.5" cy="402.3" r="3.0"/>
<circle cx="378.9" cy="408.7" r="3.0"/>
<circle cx="377.9" cy="376.3" r="3.0"/>
<circle cx="363.6" cy="390.4" r="3.0"/>
<circle cx="385.2" cy="407.9" r="3.0"/>
<circle cx="379.6" cy="372.7" r="3.0"/>
<circle cx="365.5" cy="396.5" r="3.0"/>
<circle cx="370.4" cy="405.6" r="3.0"/>
<circle cx="368.7" cy="393.8" r="3.0"/>
<circle cx="387.6" cy="363.9" r="3.0"/>
<circle cx="389.0" cy="394.9" r="3.0"/>
<circle cx="375.7" cy="399.9" r="3.0"/>
<circle cx="386.9" cy="371.8" r="3.0"/>
<circle cx="382.5" cy="387.0" r="3.0"/>
<circle cx="374.3" cy="382.3" r="3.0"/>
<circle cx="384.2" cy="411.8" r="3.0"/>
<circle cx="389.4" cy="389.2" r="3.0"/>
<circle cx="389.1" cy="400.2" r="3.0"/>
<circle cx="368.5" cy="383.2" r="3.0"/>
<circle cx="376.0" cy="392.0" r="3.0"/>
<circle cx="389.2" cy="397.2" r="3.0"/>
<circle cx="374.8" cy="411.4" r="3.0"/>
<circle cx="388.5" cy="393.3" r="3.0"/>
<circle cx="377.3" cy="380.9" r="3.0"/>
<circle cx="378.7" cy="387.7" r="3.0"/>
<circle cx="380.5" cy="414.5" r="3.0"/>
<circle cx="383.6" cy="370.4" r="3.0"/>
<circle cx="366.2" cy="400.3" r="3.0"/>
<circle cx="390.2" cy="395.3" r="3.0"/>
<circle cx="387.3" cy="387.3" r="3.0"/>
<circle cx="385.5" cy="397.7" r="3.0"/>
<circle cx="381.5" cy="413.9" r="3.0"/>
<circle cx="373.9" cy="402.8" r="3.0"/>
<circle cx="378.2" cy="387.6" r="3.0"/>
<circle cx="389.3" cy="373.3" r="3.0"/>
<circle cx="366.3" cy="395.1" r="3.0"/>
<circle cx="383.8" cy="367.6" r="3.0"/>
<circle cx="384.7" cy="369.6" r="3.0"/>
<circle cx="366.2" cy="391.8" r="3.0"/>
<circle cx="387.5" cy="367.5" r="3.0"/>
<circle cx="297.7" cy="410.3" r="3.0"/>
<circle cx="293.5" cy="422.7" r="3.0"/>
<circle cx="291.0" cy="409.5" r="3.0"/>
<circle cx="289.3" cy="409.3" r="3.0"/>
<circle cx="290.0" cy="412.1" r="3.0"/>
<circle cx="296.7" cy="398.8" r="3.0"/>
<circle cx="292.1" cy="431.7" r="3.0"/>
<circle cx="296.7" cy="407.2" r="3.0"/>
<circle cx="292.8" cy="432.9" r="3.0"/>
<circle cx="291.0" cy="390.7" r="3.0"/>
<circle cx="289.6" cy="417.5" r="3.0"/>
<circle cx="296.6" cy="422.9" r="3.0"/>
<circle cx="291.0" cy="409.2" r="3.0"/>
<circle cx="294.7" cy="383.1" r="3.0"/>
<circle cx="290.5" cy="419.4" r="3.0"/>
<circle cx="294.0" cy="424.0" r="3.0"/>
<circle cx="295.4" cy="385.3" r="3.0"/>
<circle cx="293.5" cy="434.8" r="3.0"/>
<circle cx="292.1" cy="390.3" r="3.0"/>
<circle cx="293.1" cy="435.7" r="3.0"/>
<circle cx="289.9" cy="407.0" r="3.0"/>
<circle cx="295.8" cy="425.4" r="3.0"/>
<circle cx="390.0" cy="413.5" r="3.0"/>
<circle cx="392.5" cy="409.4" r="3.0"/>
<circle cx="394.8" cy="417.3" r="3.0"/>
<circle cx="392.2" cy="425.2" r="3.0"/>
<circle cx="391.0" cy="419.5" r="3.0"/>
<circle cx="395.8" cy="410.5" r="3.0"/>
<circle cx="388.3" cy="399.1" r="3.0"/>
<circle cx="395.9" cy="426.7" r="3.0"/>
<circle cx="395.1" cy="399.8" r="3.0"/>
<circle cx="390.6" cy="431.3" r="3.0"/>
<circle cx="393.6" cy="413.6" r="3.0"/>
<circle cx="397.7" cy="431.9" r="3.0"/>
<circle cx="390.5" cy="423.5" r="3.0"/>
<circle cx="396.2" cy="428.0" r="3.0"/>
</g>
<rect x="692.5" y="488.5" width="215" height="33.7" rx="3.3" fill="#fff" fill-opacity="0.8" stroke="#cccccc" stroke-opacity="0.8" stroke-width="1.11"/>
<circle cx="715.4" cy="504.5" r="3.0" fill="#0000ff"/>
<g transform="translate(0,0)">
<text x="746" y="509.2" font-size="16.667" fill="#000">Injected:1.14 ns</text>
<path d="M856.7 504.4H866.7M861.6 500.8V508.5M856.7 510.4H866.7" stroke="#000" stroke-width="1.0" fill="none"/>
<text x="870.6" y="509.2" font-size="16.667" fill="#000">0.03</text>
</g>
<g stroke="#000" stroke-width="1.11" fill="none">
<rect x="106.5" y="93.5" width="810" height="438.0"/>
<line x1="111.5" y1="531.5" x2="111.5" y2="536.36"/>
<line x1="224.5" y1="531.5" x2="224.5" y2="536.36"/>
<line x1="337.5" y1="531.5" x2="337.5" y2="536.36"/>
<line x1="450.5" y1="531.5" x2="450.5" y2="536.36"/>
<line x1="563.5" y1="531.5" x2="563.5" y2="536.36"/>
<line x1="675.5" y1="531.5" x2="675.5" y2="536.36"/>
<line x1="788.5" y1="531.5" x2="788.5" y2="536.36"/>
<line x1="901.5" y1="531.5" x2="901.5" y2="536.36"/>
<line x1="106.5" y1="93.5" x2="101.64" y2="93.5"/>
<line x1="106.5" y1="181.5" x2="101.64" y2="181.5"/>
<line x1="106.5" y1="268.5" x2="101.64" y2="268.5"/>
<line x1="106.5" y1="356.5" x2="101.64" y2="356.5"/>
<line x1="106.5" y1="443.5" x2="101.64" y2="443.5"/>
<line x1="106.5" y1="531.5" x2="101.64" y2="531.5"/>
</g>
<text transform="translate(98.0,540.3) scale(0.9,1)" text-anchor="end" font-size="29.7" fill="#000">1.0</text>
<text transform="translate(98.0,452.3) scale(0.9,1)" text-anchor="end" font-size="29.7" fill="#000">1.1</text>
<text transform="translate(98.0,365.3) scale(0.9,1)" text-anchor="end" font-size="29.7" fill="#000">1.2</text>
<text transform="translate(98.0,277.3) scale(0.9,1)" text-anchor="end" font-size="29.7" fill="#000">1.3</text>
<text transform="translate(98.0,190.3) scale(0.9,1)" text-anchor="end" font-size="29.7" fill="#000">1.4</text>
<text transform="translate(98.0,102.3) scale(0.9,1)" text-anchor="end" font-size="29.7" fill="#000">1.5</text>
<text transform="translate(51.1,313.3) rotate(-90)" x="0" y="0" text-anchor="middle" font-size="33.333" fill="#000">B1 bunch length (ns)</text>
<clipPath id="clipbot"><rect x="106.5" y="586.5" width="810" height="437.0"/></clipPath>
<g stroke="#b0b0b0" stroke-width="1" shape-rendering="crispEdges">
<line x1="111.5" y1="586.5" x2="111.5" y2="1023.5"/>
<line x1="224.5" y1="586.5" x2="224.5" y2="1023.5"/>
<line x1="337.5" y1="586.5" x2="337.5" y2="1023.5"/>
<line x1="450.5" y1="586.5" x2="450.5" y2="1023.5"/>
<line x1="563.5" y1="586.5" x2="563.5" y2="1023.5"/>
<line x1="675.5" y1="586.5" x2="675.5" y2="1023.5"/>
<line x1="788.5" y1="586.5" x2="788.5" y2="1023.5"/>
<line x1="901.5" y1="586.5" x2="901.5" y2="1023.5"/>
<line x1="106.5" y1="586.5" x2="916.5" y2="586.5"/>
<line x1="106.5" y1="673.5" x2="916.5" y2="673.5"/>
<line x1="106.5" y1="761.5" x2="916.5" y2="761.5"/>
<line x1="106.5" y1="848.5" x2="916.5" y2="848.5"/>
<line x1="106.5" y1="936.5" x2="916.5" y2="936.5"/>
<line x1="106.5" y1="1023.5" x2="916.5" y2="1023.5"/>
</g>
<g fill="#0000ff" clip-path="url(#clipbot)">
<circle cx="164.5" cy="846.0" r="3.0"/>
<circle cx="161.0" cy="849.5" r="3.0"/>
<circle cx="148.5" cy="851.5" r="3.0"/>
<circle cx="150.5" cy="858.5" r="3.0"/>
<circle cx="160.5" cy="860.5" r="3.0"/>
<circle cx="126.5" cy="861.5" r="3.0"/>
<circle cx="139.5" cy="861.5" r="3.0"/>
<circle cx="130.5" cy="868.5" r="3.0"/>
<circle cx="139.0" cy="870.0" r="3.0"/>
<circle cx="141.0" cy="872.0" r="3.0"/>
<circle cx="146.5" cy="867.5" r="3.0"/>
<circle cx="149.0" cy="869.5" r="3.0"/>
<circle cx="127.5" cy="874.0" r="3.0"/>
<circle cx="125.5" cy="876.0" r="3.0"/>
<circle cx="149.5" cy="875.5" r="3.0"/>
<circle cx="136.5" cy="877.0" r="3.0"/>
<circle cx="137.0" cy="881.0" r="3.0"/>
<circle cx="147.5" cy="881.5" r="3.0"/>
<circle cx="141.0" cy="884.0" r="3.0"/>
<circle cx="140.0" cy="887.0" r="3.0"/>
<circle cx="125.5" cy="885.0" r="3.0"/>
<circle cx="130.0" cy="884.5" r="3.0"/>
<circle cx="123.5" cy="892.0" r="3.0"/>
<circle cx="129.0" cy="893.0" r="3.0"/>
<circle cx="137.0" cy="893.0" r="3.0"/>
<circle cx="146.0" cy="889.5" r="3.0"/>
<circle cx="150.0" cy="892.0" r="3.0"/>
<circle cx="124.0" cy="898.5" r="3.0"/>
<circle cx="131.0" cy="899.0" r="3.0"/>
<circle cx="139.0" cy="898.0" r="3.0"/>
<circle cx="149.0" cy="896.0" r="3.0"/>
<circle cx="148.0" cy="903.0" r="3.0"/>
<circle cx="125.0" cy="905.0" r="3.0"/>
<circle cx="133.0" cy="904.0" r="3.0"/>
<circle cx="140.0" cy="903.0" r="3.0"/>
<circle cx="146.0" cy="908.5" r="3.0"/>
<circle cx="151.0" cy="910.0" r="3.0"/>
<circle cx="128.0" cy="909.5" r="3.0"/>
<circle cx="182.0" cy="860.0" r="3.0"/>
<circle cx="185.5" cy="859.0" r="3.0"/>
<circle cx="189.5" cy="863.5" r="3.0"/>
<circle cx="195.5" cy="863.5" r="3.0"/>
<circle cx="181.0" cy="869.0" r="3.0"/>
<circle cx="185.5" cy="867.0" r="3.0"/>
<circle cx="175.0" cy="871.0" r="3.0"/>
<circle cx="173.0" cy="876.0" r="3.0"/>
<circle cx="161.0" cy="875.0" r="3.0"/>
<circle cx="164.0" cy="876.0" r="3.0"/>
<circle cx="161.5" cy="881.0" r="3.0"/>
<circle cx="169.0" cy="880.0" r="3.0"/>
<circle cx="176.0" cy="881.0" r="3.0"/>
<circle cx="182.0" cy="878.0" r="3.0"/>
<circle cx="186.0" cy="880.0" r="3.0"/>
<circle cx="190.5" cy="879.5" r="3.0"/>
<circle cx="163.0" cy="887.0" r="3.0"/>
<circle cx="172.0" cy="886.0" r="3.0"/>
<circle cx="182.0" cy="885.0" r="3.0"/>
<circle cx="193.0" cy="887.0" r="3.0"/>
<circle cx="190.0" cy="888.0" r="3.0"/>
<circle cx="159.0" cy="893.0" r="3.0"/>
<circle cx="166.0" cy="892.0" r="3.0"/>
<circle cx="174.0" cy="893.0" r="3.0"/>
<circle cx="181.0" cy="892.0" r="3.0"/>
<circle cx="185.0" cy="892.0" r="3.0"/>
<circle cx="195.0" cy="893.5" r="3.0"/>
<circle cx="192.0" cy="896.0" r="3.0"/>
<circle cx="159.0" cy="899.0" r="3.0"/>
<circle cx="164.0" cy="899.0" r="3.0"/>
<circle cx="173.0" cy="898.0" r="3.0"/>
<circle cx="183.0" cy="899.0" r="3.0"/>
<circle cx="194.5" cy="900.5" r="3.0"/>
<circle cx="160.0" cy="905.0" r="3.0"/>
<circle cx="167.0" cy="904.0" r="3.0"/>
<circle cx="174.0" cy="905.0" r="3.0"/>
<circle cx="182.0" cy="904.0" r="3.0"/>
<circle cx="192.0" cy="909.0" r="3.0"/>
<circle cx="164.0" cy="910.0" r="3.0"/>
<circle cx="174.0" cy="910.0" r="3.0"/>
<circle cx="181.0" cy="910.0" r="3.0"/>
<circle cx="206.5" cy="819.5" r="3.0"/>
<circle cx="225.0" cy="828.0" r="3.0"/>
<circle cx="229.5" cy="830.5" r="3.0"/>
<circle cx="224.0" cy="831.5" r="3.0"/>
<circle cx="239.5" cy="835.5" r="3.0"/>
<circle cx="226.5" cy="837.5" r="3.0"/>
<circle cx="230.0" cy="841.0" r="3.0"/>
<circle cx="219.5" cy="845.5" r="3.0"/>
<circle cx="226.0" cy="844.0" r="3.0"/>
<circle cx="237.5" cy="847.0" r="3.0"/>
<circle cx="210.0" cy="850.0" r="3.0"/>
<circle cx="204.0" cy="854.0" r="3.0"/>
<circle cx="215.0" cy="853.0" r="3.0"/>
<circle cx="228.0" cy="853.0" r="3.0"/>
<circle cx="239.0" cy="854.0" r="3.0"/>
<circle cx="202.0" cy="859.0" r="3.0"/>
<circle cx="209.0" cy="858.0" r="3.0"/>
<circle cx="217.0" cy="857.0" r="3.0"/>
<circle cx="224.0" cy="859.0" r="3.0"/>
<circle cx="235.0" cy="857.0" r="3.0"/>
<circle cx="205.5" cy="864.0" r="3.0"/>
<circle cx="216.0" cy="865.0" r="3.0"/>
<circle cx="226.0" cy="864.0" r="3.0"/>
<circle cx="240.0" cy="863.0" r="3.0"/>
<circle cx="210.0" cy="869.0" r="3.0"/>
<circle cx="218.0" cy="870.0" r="3.0"/>
<circle cx="227.0" cy="870.0" r="3.0"/>
<circle cx="236.0" cy="870.0" r="3.0"/>
<circle cx="204.0" cy="873.0" r="3.0"/>
<circle cx="206.0" cy="879.0" r="3.0"/>
<circle cx="216.0" cy="878.0" r="3.0"/>
<circle cx="223.0" cy="876.0" r="3.0"/>
<circle cx="237.0" cy="874.0" r="3.0"/>
<circle cx="203.0" cy="885.0" r="3.0"/>
<circle cx="211.0" cy="886.0" r="3.0"/>
<circle cx="220.0" cy="884.0" r="3.0"/>
<circle cx="228.0" cy="882.0" r="3.0"/>
<circle cx="235.0" cy="881.0" r="3.0"/>
<circle cx="239.0" cy="885.0" r="3.0"/>
<circle cx="208.0" cy="890.0" r="3.0"/>
<circle cx="218.0" cy="889.0" r="3.0"/>
<circle cx="225.0" cy="893.0" r="3.0"/>
<circle cx="233.0" cy="890.0" r="3.0"/>
<circle cx="238.0" cy="893.0" r="3.0"/>
<circle cx="203.5" cy="900.0" r="3.0"/>
<circle cx="210.0" cy="898.0" r="3.0"/>
<circle cx="214.0" cy="900.0" r="3.0"/>
<circle cx="223.0" cy="901.0" r="3.0"/>
<circle cx="233.0" cy="899.0" r="3.0"/>
<circle cx="208.0" cy="906.0" r="3.0"/>
<circle cx="217.0" cy="906.0" r="3.0"/>
<circle cx="222.5" cy="906.0" r="3.0"/>
<circle cx="236.5" cy="905.5" r="3.0"/>
<circle cx="232.0" cy="910.5" r="3.0"/>
<circle cx="254.5" cy="805.5" r="3.0"/>
<circle cx="273.5" cy="811.5" r="3.0"/>
<circle cx="248.5" cy="821.5" r="3.0"/>
<circle cx="262.5" cy="833.5" r="3.0"/>
<circle cx="251.5" cy="839.0" r="3.0"/>
<circle cx="250.5" cy="844.5" r="3.0"/>
<circle cx="259.5" cy="845.5" r="3.0"/>
<circle cx="279.5" cy="848.5" r="3.0"/>
<circle cx="249.5" cy="851.5" r="3.0"/>
<circle cx="258.5" cy="852.5" r="3.0"/>
<circle cx="261.5" cy="855.5" r="3.0"/>
<circle cx="283.5" cy="856.5" r="3.0"/>
<circle cx="272.5" cy="859.5" r="3.0"/>
<circle cx="277.5" cy="864.5" r="3.0"/>
<circle cx="248.0" cy="859.0" r="3.0"/>
<circle cx="251.0" cy="863.0" r="3.0"/>
<circle cx="260.0" cy="866.0" r="3.0"/>
<circle cx="269.0" cy="866.0" r="3.0"/>
<circle cx="252.0" cy="870.0" r="3.0"/>
<circle cx="283.5" cy="871.0" r="3.0"/>
<circle cx="283.5" cy="876.5" r="3.0"/>
<circle cx="262.0" cy="873.0" r="3.0"/>
<circle cx="270.0" cy="874.0" r="3.0"/>
<circle cx="250.0" cy="880.0" r="3.0"/>
<circle cx="256.0" cy="878.0" r="3.0"/>
<circle cx="264.0" cy="881.0" r="3.0"/>
<circle cx="272.0" cy="880.0" r="3.0"/>
<circle cx="279.0" cy="882.0" r="3.0"/>
<circle cx="283.0" cy="886.0" r="3.0"/>
<circle cx="248.0" cy="886.0" r="3.0"/>
<circle cx="256.0" cy="886.0" r="3.0"/>
<circle cx="265.0" cy="885.0" r="3.0"/>
<circle cx="272.0" cy="888.0" r="3.0"/>
<circle cx="249.0" cy="893.0" r="3.0"/>
<circle cx="258.0" cy="893.0" r="3.0"/>
<circle cx="268.0" cy="892.0" r="3.0"/>
<circle cx="279.0" cy="896.0" r="3.0"/>
<circle cx="284.0" cy="901.0" r="3.0"/>
<circle cx="252.0" cy="900.0" r="3.0"/>
<circle cx="264.0" cy="899.0" r="3.0"/>
<circle cx="272.0" cy="899.0" r="3.0"/>
<circle cx="279.0" cy="905.0" r="3.0"/>
<circle cx="248.0" cy="908.0" r="3.0"/>
<circle cx="256.0" cy="907.0" r="3.0"/>
<circle cx="265.0" cy="906.0" r="3.0"/>
<circle cx="272.0" cy="906.0" r="3.0"/>
<circle cx="260.0" cy="911.0" r="3.0"/>
<circle cx="271.0" cy="911.0" r="3.0"/>
<circle cx="294.0" cy="841.0" r="3.0"/>
<circle cx="293.5" cy="845.0" r="3.0"/>
<circle cx="292.0" cy="851.0" r="3.0"/>
<circle cx="293.5" cy="858.0" r="3.0"/>
<circle cx="294.0" cy="865.0" r="3.0"/>
<circle cx="292.5" cy="873.0" r="3.0"/>
<circle cx="292.5" cy="877.0" r="3.0"/>
<circle cx="293.5" cy="885.5" r="3.0"/>
<circle cx="292.0" cy="895.0" r="3.0"/>
<circle cx="292.0" cy="900.0" r="3.0"/>
<circle cx="317.5" cy="818.5" r="3.0"/>
<circle cx="304.5" cy="830.5" r="3.0"/>
<circle cx="313.5" cy="843.0" r="3.0"/>
<circle cx="298.0" cy="853.0" r="3.0"/>
<circle cx="304.0" cy="853.5" r="3.0"/>
<circle cx="309.0" cy="853.5" r="3.0"/>
<circle cx="319.0" cy="851.0" r="3.0"/>
<circle cx="316.0" cy="858.0" r="3.0"/>
<circle cx="303.0" cy="862.0" r="3.0"/>
<circle cx="313.0" cy="862.0" r="3.0"/>
<circle cx="304.0" cy="869.0" r="3.0"/>
<circle cx="310.0" cy="870.0" r="3.0"/>
<circle cx="317.0" cy="869.0" r="3.0"/>
<circle cx="299.0" cy="874.0" r="3.0"/>
<circle cx="305.0" cy="876.0" r="3.0"/>
<circle cx="314.0" cy="877.0" r="3.0"/>
<circle cx="300.0" cy="882.0" r="3.0"/>
<circle cx="310.0" cy="883.0" r="3.0"/>
<circle cx="316.0" cy="880.0" r="3.0"/>
<circle cx="302.0" cy="887.0" r="3.0"/>
<circle cx="308.0" cy="888.0" r="3.0"/>
<circle cx="313.0" cy="890.0" r="3.0"/>
<circle cx="318.0" cy="887.0" r="3.0"/>
<circle cx="299.0" cy="894.0" r="3.0"/>
<circle cx="304.0" cy="892.0" r="3.0"/>
<circle cx="316.0" cy="896.0" r="3.0"/>
<circle cx="298.0" cy="901.0" r="3.0"/>
<circle cx="306.0" cy="900.0" r="3.0"/>
<circle cx="312.0" cy="901.0" r="3.0"/>
<circle cx="315.0" cy="902.0" r="3.0"/>
<circle cx="301.0" cy="908.0" r="3.0"/>
<circle cx="294.5" cy="841.0" r="3.0"/>
<circle cx="294.5" cy="845.5" r="3.0"/>
<circle cx="292.0" cy="850.5" r="3.0"/>
<circle cx="294.0" cy="857.0" r="3.0"/>
<circle cx="294.0" cy="864.0" r="3.0"/>
<circle cx="292.0" cy="873.0" r="3.0"/>
<circle cx="294.0" cy="876.0" r="3.0"/>
<circle cx="293.0" cy="885.0" r="3.0"/>
<circle cx="292.0" cy="895.0" r="3.0"/>
<circle cx="291.0" cy="900.0" r="3.0"/>
<circle cx="127.5" cy="913.0" r="3.0"/>
<circle cx="137.0" cy="915.0" r="3.0"/>
<circle cx="144.0" cy="916.0" r="3.0"/>
<circle cx="150.0" cy="913.5" r="3.0"/>
<circle cx="127.0" cy="918.0" r="3.0"/>
<circle cx="124.0" cy="923.0" r="3.0"/>
<circle cx="130.0" cy="924.0" r="3.0"/>
<circle cx="134.0" cy="922.0" r="3.0"/>
<circle cx="139.0" cy="921.5" r="3.0"/>
<circle cx="145.0" cy="923.0" r="3.0"/>
<circle cx="124.0" cy="927.0" r="3.0"/>
<circle cx="127.0" cy="930.0" r="3.0"/>
<circle cx="123.0" cy="934.0" r="3.0"/>
<circle cx="135.5" cy="931.0" r="3.0"/>
<circle cx="145.0" cy="927.0" r="3.0"/>
<circle cx="146.0" cy="929.5" r="3.0"/>
<circle cx="150.5" cy="927.0" r="3.0"/>
<circle cx="113.5" cy="936.5" r="3.0"/>
<circle cx="133.5" cy="937.0" r="3.0"/>
<circle cx="144.0" cy="938.5" r="3.0"/>
<circle cx="143.5" cy="942.0" r="3.0"/>
<circle cx="134.5" cy="943.5" r="3.0"/>
<circle cx="133.0" cy="947.0" r="3.0"/>
<circle cx="113.5" cy="955.0" r="3.0"/>
<circle cx="113.5" cy="957.5" r="3.0"/>
<circle cx="134.0" cy="960.5" r="3.0"/>
<circle cx="131.0" cy="963.5" r="3.0"/>
<circle cx="143.5" cy="974.5" r="3.0"/>
<circle cx="112.5" cy="987.5" r="3.0"/>
<circle cx="112.5" cy="997.5" r="3.0"/>
<circle cx="112.5" cy="1001.5" r="3.0"/>
<circle cx="112.0" cy="1008.0" r="3.0"/>
<circle cx="112.5" cy="1012.5" r="3.0"/>
<circle cx="163.0" cy="913.5" r="3.0"/>
<circle cx="172.0" cy="915.0" r="3.0"/>
<circle cx="179.0" cy="915.0" r="3.0"/>
<circle cx="189.0" cy="914.0" r="3.0"/>
<circle cx="195.0" cy="914.0" r="3.0"/>
<circle cx="160.0" cy="922.0" r="3.0"/>
<circle cx="166.0" cy="921.0" r="3.0"/>
<circle cx="173.0" cy="923.0" r="3.0"/>
<circle cx="182.5" cy="922.5" r="3.0"/>
<circle cx="178.0" cy="926.5" r="3.0"/>
<circle cx="159.0" cy="929.0" r="3.0"/>
<circle cx="168.0" cy="931.0" r="3.0"/>
<circle cx="171.0" cy="929.5" r="3.0"/>
<circle cx="187.0" cy="926.0" r="3.0"/>
<circle cx="191.0" cy="928.0" r="3.0"/>
<circle cx="194.5" cy="930.0" r="3.0"/>
<circle cx="159.5" cy="935.5" r="3.0"/>
<circle cx="188.0" cy="936.0" r="3.0"/>
<circle cx="192.0" cy="938.0" r="3.0"/>
<circle cx="195.0" cy="936.5" r="3.0"/>
<circle cx="189.0" cy="946.5" r="3.0"/>
<circle cx="187.0" cy="951.5" r="3.0"/>
<circle cx="189.5" cy="955.5" r="3.0"/>
<circle cx="178.5" cy="951.0" r="3.0"/>
<circle cx="178.0" cy="954.5" r="3.0"/>
<circle cx="165.5" cy="954.5" r="3.0"/>
<circle cx="177.5" cy="961.5" r="3.0"/>
<circle cx="158.5" cy="967.5" r="3.0"/>
<circle cx="187.5" cy="979.5" r="3.0"/>
<circle cx="199.5" cy="924.0" r="3.0"/>
<circle cx="199.5" cy="930.5" r="3.0"/>
<circle cx="203.5" cy="917.0" r="3.0"/>
<circle cx="213.0" cy="917.0" r="3.0"/>
<circle cx="212.5" cy="920.0" r="3.0"/>
<circle cx="222.5" cy="915.5" r="3.0"/>
<circle cx="232.0" cy="912.5" r="3.0"/>
<circle cx="202.5" cy="923.5" r="3.0"/>
<circle cx="222.5" cy="927.5" r="3.0"/>
<circle cx="202.5" cy="930.5" r="3.0"/>
<circle cx="212.5" cy="936.5" r="3.0"/>
<circle cx="212.5" cy="947.5" r="3.0"/>
<circle cx="231.5" cy="920.5" r="3.0"/>
<circle cx="231.5" cy="952.5" r="3.0"/>
<circle cx="232.0" cy="959.5" r="3.0"/>
<circle cx="247.0" cy="913.0" r="3.0"/>
<circle cx="260.0" cy="913.0" r="3.0"/>
<circle cx="269.0" cy="915.0" r="3.0"/>
<circle cx="272.0" cy="912.5" r="3.0"/>
<circle cx="280.0" cy="915.5" r="3.0"/>
<circle cx="246.5" cy="918.5" r="3.0"/>
<circle cx="257.5" cy="918.0" r="3.0"/>
<circle cx="259.5" cy="922.5" r="3.0"/>
<circle cx="266.5" cy="926.0" r="3.0"/>
<circle cx="262.0" cy="932.0" r="3.0"/>
<circle cx="265.0" cy="931.0" r="3.0"/>
<circle cx="273.0" cy="929.0" r="3.0"/>
<circle cx="278.0" cy="928.0" r="3.0"/>
<circle cx="282.0" cy="928.5" r="3.0"/>
<circle cx="276.0" cy="934.0" r="3.0"/>
<circle cx="280.0" cy="939.0" r="3.0"/>
<circle cx="249.5" cy="934.0" r="3.0"/>
<circle cx="247.5" cy="939.0" r="3.0"/>
<circle cx="257.0" cy="937.5" r="3.0"/>
<circle cx="258.0" cy="940.5" r="3.0"/>
<circle cx="247.5" cy="945.5" r="3.0"/>
<circle cx="250.0" cy="946.5" r="3.0"/>
<circle cx="256.5" cy="948.5" r="3.0"/>
<circle cx="273.5" cy="943.5" r="3.0"/>
<circle cx="267.0" cy="949.0" r="3.0"/>
<circle cx="271.0" cy="948.5" r="3.0"/>
<circle cx="276.5" cy="951.5" r="3.0"/>
<circle cx="247.5" cy="964.5" r="3.0"/>
<circle cx="276.5" cy="962.0" r="3.0"/>
<circle cx="279.5" cy="964.0" r="3.0"/>
<circle cx="268.5" cy="969.5" r="3.0"/>
<circle cx="266.5" cy="977.5" r="3.0"/>
<circle cx="283.5" cy="1003.5" r="3.0"/>
<circle cx="291.5" cy="931.5" r="3.0"/>
<circle cx="291.5" cy="945.5" r="3.0"/>
<circle cx="301.5" cy="915.5" r="3.0"/>
<circle cx="303.0" cy="912.5" r="3.0"/>
<circle cx="311.5" cy="922.5" r="3.0"/>
<circle cx="300.5" cy="925.5" r="3.0"/>
<circle cx="301.5" cy="927.5" r="3.0"/>
<circle cx="310.5" cy="929.5" r="3.0"/>
<circle cx="311.5" cy="944.5" r="3.0"/>
<circle cx="313.8" cy="843.8" r="3.0"/>
<circle cx="317.5" cy="851.2" r="3.0"/>
<circle cx="316.2" cy="857.5" r="3.0"/>
<circle cx="317.5" cy="865.0" r="3.0"/>
<circle cx="312.5" cy="870.0" r="3.0"/>
<circle cx="315.0" cy="877.0" r="3.0"/>
<circle cx="311.0" cy="848.0" r="3.0"/>
<circle cx="318.0" cy="872.0" r="3.0"/>
<circle cx="226.0" cy="838.0" r="3.0"/>
<circle cx="228.0" cy="845.0" r="3.0"/>
<circle cx="224.0" cy="852.0" r="3.0"/>
<circle cx="230.0" cy="858.0" r="3.0"/>
<circle cx="227.0" cy="866.0" r="3.0"/>
<circle cx="283.0" cy="928.0" r="3.0"/>
<circle cx="278.0" cy="932.0" r="3.0"/>
<circle cx="281.0" cy="937.0" r="3.0"/>
<circle cx="149.5" cy="905.0" r="3.0"/>
<circle cx="125.0" cy="894.3" r="3.0"/>
<circle cx="128.8" cy="902.3" r="3.0"/>
<circle cx="138.8" cy="910.3" r="3.0"/>
<circle cx="129.9" cy="890.0" r="3.0"/>
<circle cx="123.9" cy="891.8" r="3.0"/>
<circle cx="148.9" cy="901.8" r="3.0"/>
<circle cx="130.2" cy="900.8" r="3.0"/>
<circle cx="141.8" cy="895.0" r="3.0"/>
<circle cx="123.6" cy="903.9" r="3.0"/>
<circle cx="139.9" cy="889.0" r="3.0"/>
<circle cx="137.6" cy="890.5" r="3.0"/>
<circle cx="135.0" cy="904.6" r="3.0"/>
<circle cx="140.5" cy="894.9" r="3.0"/>
<circle cx="145.2" cy="893.1" r="3.0"/>
<circle cx="141.9" cy="894.0" r="3.0"/>
<circle cx="141.3" cy="900.8" r="3.0"/>
<circle cx="140.5" cy="907.3" r="3.0"/>
<circle cx="146.6" cy="910.5" r="3.0"/>
<circle cx="129.6" cy="910.6" r="3.0"/>
<circle cx="142.4" cy="890.6" r="3.0"/>
<circle cx="123.1" cy="892.7" r="3.0"/>
<circle cx="136.1" cy="902.3" r="3.0"/>
<circle cx="148.7" cy="907.1" r="3.0"/>
<circle cx="149.7" cy="907.9" r="3.0"/>
<circle cx="148.3" cy="910.6" r="3.0"/>
<circle cx="144.7" cy="890.7" r="3.0"/>
<circle cx="139.7" cy="897.8" r="3.0"/>
<circle cx="142.8" cy="893.9" r="3.0"/>
<circle cx="149.8" cy="893.8" r="3.0"/>
<circle cx="136.3" cy="891.1" r="3.0"/>
<circle cx="149.6" cy="908.5" r="3.0"/>
<circle cx="150.5" cy="892.2" r="3.0"/>
<circle cx="132.7" cy="908.9" r="3.0"/>
<circle cx="148.5" cy="889.7" r="3.0"/>
<circle cx="147.0" cy="907.2" r="3.0"/>
<circle cx="150.2" cy="906.5" r="3.0"/>
<circle cx="170.3" cy="889.2" r="3.0"/>
<circle cx="177.1" cy="890.8" r="3.0"/>
<circle cx="185.9" cy="892.3" r="3.0"/>
<circle cx="171.3" cy="910.1" r="3.0"/>
<circle cx="165.6" cy="887.5" r="3.0"/>
<circle cx="160.2" cy="908.4" r="3.0"/>
<circle cx="173.1" cy="891.6" r="3.0"/>
<circle cx="183.9" cy="907.9" r="3.0"/>
<circle cx="183.5" cy="909.5" r="3.0"/>
<circle cx="173.8" cy="901.5" r="3.0"/>
<circle cx="158.6" cy="893.2" r="3.0"/>
<circle cx="159.6" cy="894.8" r="3.0"/>
<circle cx="174.7" cy="891.0" r="3.0"/>
<circle cx="178.8" cy="878.9" r="3.0"/>
<circle cx="164.7" cy="882.2" r="3.0"/>
<circle cx="172.7" cy="903.7" r="3.0"/>
<circle cx="163.1" cy="907.5" r="3.0"/>
<circle cx="168.2" cy="883.0" r="3.0"/>
<circle cx="165.4" cy="902.9" r="3.0"/>
<circle cx="158.2" cy="891.0" r="3.0"/>
<circle cx="166.4" cy="894.6" r="3.0"/>
<circle cx="169.4" cy="879.2" r="3.0"/>
<circle cx="162.4" cy="909.7" r="3.0"/>
<circle cx="174.3" cy="908.2" r="3.0"/>
<circle cx="185.7" cy="897.1" r="3.0"/>
<circle cx="184.5" cy="890.7" r="3.0"/>
<circle cx="166.6" cy="904.4" r="3.0"/>
<circle cx="167.5" cy="885.3" r="3.0"/>
<circle cx="171.8" cy="890.2" r="3.0"/>
<circle cx="179.0" cy="907.3" r="3.0"/>
<circle cx="165.3" cy="885.2" r="3.0"/>
<circle cx="168.0" cy="896.9" r="3.0"/>
<circle cx="165.3" cy="879.4" r="3.0"/>
<circle cx="165.3" cy="879.6" r="3.0"/>
<circle cx="166.6" cy="891.2" r="3.0"/>
<circle cx="173.8" cy="904.2" r="3.0"/>
<circle cx="166.4" cy="889.5" r="3.0"/>
<circle cx="172.9" cy="880.1" r="3.0"/>
<circle cx="158.4" cy="907.0" r="3.0"/>
<circle cx="177.3" cy="892.3" r="3.0"/>
<circle cx="181.5" cy="909.5" r="3.0"/>
<circle cx="174.9" cy="892.0" r="3.0"/>
<circle cx="158.0" cy="909.2" r="3.0"/>
<circle cx="180.5" cy="879.7" r="3.0"/>
<circle cx="171.0" cy="884.6" r="3.0"/>
<circle cx="185.5" cy="886.6" r="3.0"/>
<circle cx="162.1" cy="907.5" r="3.0"/>
<circle cx="166.8" cy="880.5" r="3.0"/>
<circle cx="170.6" cy="884.8" r="3.0"/>
<circle cx="177.6" cy="907.1" r="3.0"/>
<circle cx="180.0" cy="899.2" r="3.0"/>
<circle cx="183.2" cy="880.1" r="3.0"/>
<circle cx="178.3" cy="885.9" r="3.0"/>
<circle cx="209.2" cy="863.3" r="3.0"/>
<circle cx="235.1" cy="887.8" r="3.0"/>
<circle cx="234.7" cy="855.7" r="3.0"/>
<circle cx="219.6" cy="851.9" r="3.0"/>
<circle cx="210.6" cy="889.2" r="3.0"/>
<circle cx="206.2" cy="893.4" r="3.0"/>
<circle cx="239.6" cy="866.5" r="3.0"/>
<circle cx="225.3" cy="896.0" r="3.0"/>
<circle cx="230.1" cy="886.2" r="3.0"/>
<circle cx="232.6" cy="881.1" r="3.0"/>
<circle cx="215.8" cy="873.0" r="3.0"/>
<circle cx="216.1" cy="874.6" r="3.0"/>
<circle cx="217.5" cy="880.9" r="3.0"/>
<circle cx="226.1" cy="887.4" r="3.0"/>
<circle cx="202.9" cy="867.7" r="3.0"/>
<circle cx="233.5" cy="880.3" r="3.0"/>
<circle cx="216.9" cy="861.1" r="3.0"/>
<circle cx="203.3" cy="870.0" r="3.0"/>
<circle cx="234.0" cy="888.2" r="3.0"/>
<circle cx="229.8" cy="869.7" r="3.0"/>
<circle cx="211.6" cy="857.8" r="3.0"/>
<circle cx="208.7" cy="860.4" r="3.0"/>
<circle cx="202.2" cy="867.4" r="3.0"/>
<circle cx="232.5" cy="860.5" r="3.0"/>
<circle cx="235.3" cy="873.2" r="3.0"/>
<circle cx="206.1" cy="864.7" r="3.0"/>
<circle cx="229.9" cy="842.3" r="3.0"/>
<circle cx="225.2" cy="893.3" r="3.0"/>
<circle cx="218.4" cy="880.5" r="3.0"/>
<circle cx="207.1" cy="884.2" r="3.0"/>
<circle cx="232.2" cy="874.8" r="3.0"/>
<circle cx="237.8" cy="872.8" r="3.0"/>
<circle cx="234.0" cy="861.3" r="3.0"/>
<circle cx="229.0" cy="869.6" r="3.0"/>
<circle cx="208.1" cy="868.8" r="3.0"/>
<circle cx="238.4" cy="878.6" r="3.0"/>
<circle cx="206.4" cy="872.2" r="3.0"/>
<circle cx="225.1" cy="884.1" r="3.0"/>
<circle cx="214.6" cy="873.5" r="3.0"/>
<circle cx="223.6" cy="889.6" r="3.0"/>
<circle cx="216.2" cy="853.1" r="3.0"/>
<circle cx="212.1" cy="893.7" r="3.0"/>
<circle cx="220.7" cy="849.7" r="3.0"/>
<circle cx="238.9" cy="867.6" r="3.0"/>
<circle cx="212.8" cy="887.4" r="3.0"/>
<circle cx="234.9" cy="867.1" r="3.0"/>
<circle cx="212.9" cy="895.6" r="3.0"/>
<circle cx="214.6" cy="857.3" r="3.0"/>
<circle cx="207.6" cy="869.5" r="3.0"/>
<circle cx="234.8" cy="871.1" r="3.0"/>
<circle cx="234.1" cy="860.1" r="3.0"/>
<circle cx="228.8" cy="851.9" r="3.0"/>
<circle cx="219.9" cy="859.3" r="3.0"/>
<circle cx="213.7" cy="884.5" r="3.0"/>
<circle cx="210.5" cy="870.3" r="3.0"/>
<circle cx="216.2" cy="891.6" r="3.0"/>
<circle cx="210.9" cy="861.5" r="3.0"/>
<circle cx="229.7" cy="858.5" r="3.0"/>
<circle cx="216.1" cy="872.1" r="3.0"/>
<circle cx="216.6" cy="876.1" r="3.0"/>
<circle cx="210.0" cy="879.5" r="3.0"/>
<circle cx="221.4" cy="897.6" r="3.0"/>
<circle cx="239.0" cy="873.9" r="3.0"/>
<circle cx="208.7" cy="858.1" r="3.0"/>
<circle cx="223.2" cy="886.9" r="3.0"/>
<circle cx="236.8" cy="891.2" r="3.0"/>
<circle cx="232.4" cy="867.5" r="3.0"/>
<circle cx="224.3" cy="856.4" r="3.0"/>
<circle cx="223.7" cy="863.0" r="3.0"/>
<circle cx="205.6" cy="878.8" r="3.0"/>
<circle cx="218.7" cy="854.5" r="3.0"/>
<circle cx="238.6" cy="889.2" r="3.0"/>
<circle cx="230.0" cy="854.3" r="3.0"/>
<circle cx="228.7" cy="894.5" r="3.0"/>
<circle cx="204.5" cy="858.7" r="3.0"/>
<circle cx="207.0" cy="890.7" r="3.0"/>
<circle cx="205.7" cy="888.9" r="3.0"/>
<circle cx="209.8" cy="896.2" r="3.0"/>
<circle cx="203.4" cy="867.6" r="3.0"/>
<circle cx="209.1" cy="873.4" r="3.0"/>
<circle cx="210.5" cy="861.1" r="3.0"/>
<circle cx="235.6" cy="875.8" r="3.0"/>
<circle cx="202.3" cy="856.9" r="3.0"/>
<circle cx="225.8" cy="859.6" r="3.0"/>
<circle cx="215.9" cy="876.7" r="3.0"/>
<circle cx="220.4" cy="855.3" r="3.0"/>
<circle cx="208.0" cy="859.0" r="3.0"/>
<circle cx="268.1" cy="865.2" r="3.0"/>
<circle cx="258.6" cy="878.2" r="3.0"/>
<circle cx="263.1" cy="884.3" r="3.0"/>
<circle cx="253.2" cy="901.0" r="3.0"/>
<circle cx="255.5" cy="870.6" r="3.0"/>
<circle cx="247.7" cy="909.0" r="3.0"/>
<circle cx="272.3" cy="893.6" r="3.0"/>
<circle cx="250.4" cy="903.2" r="3.0"/>
<circle cx="249.3" cy="896.7" r="3.0"/>
<circle cx="278.6" cy="885.7" r="3.0"/>
<circle cx="254.2" cy="909.8" r="3.0"/>
<circle cx="248.7" cy="876.7" r="3.0"/>
<circle cx="270.3" cy="893.7" r="3.0"/>
<circle cx="254.2" cy="876.6" r="3.0"/>
<circle cx="262.3" cy="910.0" r="3.0"/>
<circle cx="279.5" cy="882.7" r="3.0"/>
<circle cx="256.5" cy="884.5" r="3.0"/>
<circle cx="249.0" cy="898.1" r="3.0"/>
<circle cx="273.6" cy="875.7" r="3.0"/>
<circle cx="248.2" cy="898.9" r="3.0"/>
<circle cx="255.9" cy="900.0" r="3.0"/>
<circle cx="276.2" cy="880.6" r="3.0"/>
<circle cx="268.8" cy="874.2" r="3.0"/>
<circle cx="269.3" cy="873.2" r="3.0"/>
<circle cx="260.8" cy="901.2" r="3.0"/>
<circle cx="277.2" cy="895.3" r="3.0"/>
<circle cx="281.5" cy="900.5" r="3.0"/>
<circle cx="269.8" cy="895.4" r="3.0"/>
<circle cx="256.3" cy="899.7" r="3.0"/>
<circle cx="284.2" cy="902.6" r="3.0"/>
<circle cx="253.2" cy="889.3" r="3.0"/>
<circle cx="257.0" cy="899.1" r="3.0"/>
<circle cx="260.5" cy="882.5" r="3.0"/>
<circle cx="268.6" cy="877.9" r="3.0"/>
<circle cx="277.1" cy="892.7" r="3.0"/>
<circle cx="249.0" cy="890.6" r="3.0"/>
<circle cx="263.7" cy="907.7" r="3.0"/>
<circle cx="276.2" cy="893.1" r="3.0"/>
<circle cx="266.0" cy="869.3" r="3.0"/>
<circle cx="281.0" cy="894.3" r="3.0"/>
<circle cx="270.9" cy="909.2" r="3.0"/>
<circle cx="251.5" cy="882.1" r="3.0"/>
<circle cx="248.3" cy="877.2" r="3.0"/>
<circle cx="278.4" cy="904.5" r="3.0"/>
<circle cx="267.5" cy="903.1" r="3.0"/>
<circle cx="267.8" cy="878.2" r="3.0"/>
<circle cx="282.6" cy="898.5" r="3.0"/>
<circle cx="281.1" cy="908.4" r="3.0"/>
<circle cx="261.8" cy="875.0" r="3.0"/>
<circle cx="250.1" cy="909.3" r="3.0"/>
<circle cx="256.1" cy="910.1" r="3.0"/>
<circle cx="274.7" cy="902.3" r="3.0"/>
<circle cx="248.4" cy="906.9" r="3.0"/>
<circle cx="250.1" cy="902.0" r="3.0"/>
<circle cx="248.3" cy="908.6" r="3.0"/>
<circle cx="264.2" cy="872.2" r="3.0"/>
<circle cx="251.2" cy="881.1" r="3.0"/>
<circle cx="249.2" cy="891.2" r="3.0"/>
<circle cx="275.0" cy="887.4" r="3.0"/>
<circle cx="268.5" cy="875.6" r="3.0"/>
<circle cx="264.9" cy="893.4" r="3.0"/>
<circle cx="282.5" cy="888.5" r="3.0"/>
<circle cx="270.0" cy="898.3" r="3.0"/>
<circle cx="250.9" cy="903.2" r="3.0"/>
<circle cx="272.0" cy="883.4" r="3.0"/>
<circle cx="253.9" cy="874.2" r="3.0"/>
<circle cx="252.3" cy="907.7" r="3.0"/>
<circle cx="278.3" cy="898.7" r="3.0"/>
<circle cx="253.9" cy="898.5" r="3.0"/>
<circle cx="257.1" cy="887.9" r="3.0"/>
<circle cx="247.8" cy="906.9" r="3.0"/>
<circle cx="260.1" cy="896.6" r="3.0"/>
<circle cx="275.9" cy="897.0" r="3.0"/>
<circle cx="270.1" cy="882.4" r="3.0"/>
<circle cx="271.2" cy="906.6" r="3.0"/>
<circle cx="278.3" cy="901.1" r="3.0"/>
<circle cx="264.0" cy="885.2" r="3.0"/>
<circle cx="267.2" cy="874.1" r="3.0"/>
<circle cx="264.0" cy="875.1" r="3.0"/>
<circle cx="280.4" cy="906.5" r="3.0"/>
<circle cx="260.7" cy="901.2" r="3.0"/>
<circle cx="277.4" cy="905.3" r="3.0"/>
<circle cx="275.0" cy="874.5" r="3.0"/>
<circle cx="271.2" cy="876.5" r="3.0"/>
<circle cx="265.1" cy="866.7" r="3.0"/>
<circle cx="247.7" cy="906.9" r="3.0"/>
<circle cx="303.4" cy="882.3" r="3.0"/>
<circle cx="308.4" cy="866.1" r="3.0"/>
<circle cx="308.9" cy="890.3" r="3.0"/>
<circle cx="291.7" cy="893.6" r="3.0"/>
<circle cx="304.8" cy="883.0" r="3.0"/>
<circle cx="295.9" cy="871.8" r="3.0"/>
<circle cx="313.0" cy="886.8" r="3.0"/>
<circle cx="317.4" cy="871.5" r="3.0"/>
<circle cx="312.8" cy="888.7" r="3.0"/>
<circle cx="295.0" cy="890.8" r="3.0"/>
<circle cx="297.8" cy="883.7" r="3.0"/>
<circle cx="318.0" cy="869.2" r="3.0"/>
<circle cx="313.5" cy="880.7" r="3.0"/>
<circle cx="312.9" cy="887.1" r="3.0"/>
<circle cx="293.6" cy="884.1" r="3.0"/>
<circle cx="292.3" cy="883.3" r="3.0"/>
<circle cx="293.4" cy="882.0" r="3.0"/>
<circle cx="313.0" cy="866.0" r="3.0"/>
<circle cx="290.4" cy="876.1" r="3.0"/>
<circle cx="309.6" cy="881.2" r="3.0"/>
<circle cx="293.6" cy="879.2" r="3.0"/>
<circle cx="305.9" cy="869.3" r="3.0"/>
<circle cx="314.0" cy="891.5" r="3.0"/>
<circle cx="307.5" cy="895.3" r="3.0"/>
<circle cx="293.4" cy="866.6" r="3.0"/>
<circle cx="299.7" cy="899.0" r="3.0"/>
<circle cx="303.5" cy="884.6" r="3.0"/>
<circle cx="297.5" cy="884.5" r="3.0"/>
<circle cx="312.1" cy="884.8" r="3.0"/>
<circle cx="291.2" cy="877.5" r="3.0"/>
<circle cx="290.4" cy="875.0" r="3.0"/>
<circle cx="307.7" cy="892.6" r="3.0"/>
<circle cx="316.7" cy="888.5" r="3.0"/>
<circle cx="312.1" cy="888.6" r="3.0"/>
<circle cx="310.4" cy="867.5" r="3.0"/>
<circle cx="293.7" cy="896.1" r="3.0"/>
<circle cx="298.6" cy="886.5" r="3.0"/>
<circle cx="310.6" cy="883.1" r="3.0"/>
<circle cx="291.8" cy="885.2" r="3.0"/>
<circle cx="303.6" cy="875.3" r="3.0"/>
<circle cx="303.0" cy="885.1" r="3.0"/>
<circle cx="291.1" cy="878.4" r="3.0"/>
<circle cx="295.9" cy="882.6" r="3.0"/>
<circle cx="295.1" cy="880.1" r="3.0"/>
<circle cx="303.4" cy="870.6" r="3.0"/>
<circle cx="130.1" cy="920.6" r="3.0"/>
<circle cx="141.2" cy="920.4" r="3.0"/>
<circle cx="138.1" cy="919.2" r="3.0"/>
<circle cx="150.4" cy="917.4" r="3.0"/>
<circle cx="146.9" cy="914.8" r="3.0"/>
<circle cx="128.1" cy="916.3" r="3.0"/>
<circle cx="137.6" cy="917.6" r="3.0"/>
<circle cx="129.1" cy="913.4" r="3.0"/>
<circle cx="125.0" cy="925.5" r="3.0"/>
<circle cx="146.0" cy="923.8" r="3.0"/>
<circle cx="141.4" cy="920.5" r="3.0"/>
<circle cx="136.4" cy="922.3" r="3.0"/>
<circle cx="129.9" cy="918.9" r="3.0"/>
<circle cx="145.5" cy="920.6" r="3.0"/>
<circle cx="144.9" cy="923.1" r="3.0"/>
<circle cx="133.9" cy="918.4" r="3.0"/>
<circle cx="124.7" cy="917.8" r="3.0"/>
<circle cx="150.4" cy="913.0" r="3.0"/>
<circle cx="149.7" cy="924.9" r="3.0"/>
<circle cx="145.5" cy="914.4" r="3.0"/>
<circle cx="132.5" cy="914.1" r="3.0"/>
<circle cx="127.6" cy="916.0" r="3.0"/>
<circle cx="168.0" cy="913.0" r="3.0"/>
<circle cx="166.4" cy="916.8" r="3.0"/>
<circle cx="177.6" cy="917.0" r="3.0"/>
<circle cx="166.6" cy="915.8" r="3.0"/>
<circle cx="167.9" cy="915.4" r="3.0"/>
<circle cx="174.5" cy="912.9" r="3.0"/>
<circle cx="163.2" cy="917.7" r="3.0"/>
<circle cx="159.0" cy="922.9" r="3.0"/>
<circle cx="185.9" cy="915.2" r="3.0"/>
<circle cx="188.8" cy="915.8" r="3.0"/>
<circle cx="181.8" cy="921.3" r="3.0"/>
<circle cx="190.9" cy="917.2" r="3.0"/>
<circle cx="168.1" cy="917.2" r="3.0"/>
<circle cx="184.2" cy="918.9" r="3.0"/>
<circle cx="169.6" cy="918.5" r="3.0"/>
<circle cx="175.3" cy="916.2" r="3.0"/>
<circle cx="172.7" cy="919.4" r="3.0"/>
<circle cx="170.2" cy="914.9" r="3.0"/>
<circle cx="158.2" cy="916.3" r="3.0"/>
<circle cx="178.3" cy="912.7" r="3.0"/>
<circle cx="158.3" cy="913.2" r="3.0"/>
<circle cx="171.8" cy="920.8" r="3.0"/>
<circle cx="184.0" cy="919.2" r="3.0"/>
<circle cx="174.4" cy="917.1" r="3.0"/>
<circle cx="159.6" cy="921.4" r="3.0"/>
</g>
<rect x="691.5" y="981.5" width="216" height="33.7" rx="3.3" fill="#fff" fill-opacity="0.8" stroke="#cccccc" stroke-opacity="0.8" stroke-width="1.11"/>
<circle cx="714.4" cy="996.5" r="3.0" fill="#0000ff"/>
<g transform="translate(-1,492)">
<text x="746" y="509.2" font-size="16.667" fill="#000">Injected:1.15 ns</text>
<path d="M856.7 504.4H866.7M861.6 500.8V508.5M856.7 510.4H866.7" stroke="#000" stroke-width="1.0" fill="none"/>
<text x="870.6" y="509.2" font-size="16.667" fill="#000">0.04</text>
</g>
<g stroke="#000" stroke-width="1.11" fill="none">
<rect x="106.5" y="586.5" width="810" height="437.0"/>
<line x1="111.5" y1="1023.5" x2="111.5" y2="1028.36"/>
<line x1="224.5" y1="1023.5" x2="224.5" y2="1028.36"/>
<line x1="337.5" y1="1023.5" x2="337.5" y2="1028.36"/>
<line x1="450.5" y1="1023.5" x2="450.5" y2="1028.36"/>
<line x1="563.5" y1="1023.5" x2="563.5" y2="1028.36"/>
<line x1="675.5" y1="1023.5" x2="675.5" y2="1028.36"/>
<line x1="788.5" y1="1023.5" x2="788.5" y2="1028.36"/>
<line x1="901.5" y1="1023.5" x2="901.5" y2="1028.36"/>
<line x1="106.5" y1="586.5" x2="101.64" y2="586.5"/>
<line x1="106.5" y1="673.5" x2="101.64" y2="673.5"/>
<line x1="106.5" y1="761.5" x2="101.64" y2="761.5"/>
<line x1="106.5" y1="848.5" x2="101.64" y2="848.5"/>
<line x1="106.5" y1="936.5" x2="101.64" y2="936.5"/>
<line x1="106.5" y1="1023.5" x2="101.64" y2="1023.5"/>
</g>
<text transform="translate(98.0,1032.3) scale(0.9,1)" text-anchor="end" font-size="29.7" fill="#000">1.0</text>
<text transform="translate(98.0,945.3) scale(0.9,1)" text-anchor="end" font-size="29.7" fill="#000">1.1</text>
<text transform="translate(98.0,857.3) scale(0.9,1)" text-anchor="end" font-size="29.7" fill="#000">1.2</text>
<text transform="translate(98.0,770.3) scale(0.9,1)" text-anchor="end" font-size="29.7" fill="#000">1.3</text>
<text transform="translate(98.0,682.3) scale(0.9,1)" text-anchor="end" font-size="29.7" fill="#000">1.4</text>
<text transform="translate(98.0,595.3) scale(0.9,1)" text-anchor="end" font-size="29.7" fill="#000">1.5</text>
<text transform="translate(51.1,806.3) rotate(-90)" x="0" y="0" text-anchor="middle" font-size="33.333" fill="#000">B2 bunch length (ns)</text>
<text transform="translate(110.5,1050.2) scale(0.9,1)" text-anchor="middle" font-size="29.7" fill="#000">0</text>
<text transform="translate(223.5,1050.2) scale(0.9,1)" text-anchor="middle" font-size="29.7" fill="#000">500</text>
<text transform="translate(336.5,1050.2) scale(0.9,1)" text-anchor="middle" font-size="29.7" fill="#000">1000</text>
<text transform="translate(449.5,1050.2) scale(0.9,1)" text-anchor="middle" font-size="29.7" fill="#000">1500</text>
<text transform="translate(562.5,1050.2) scale(0.9,1)" text-anchor="middle" font-size="29.7" fill="#000">2000</text>
<text transform="translate(674.5,1050.2) scale(0.9,1)" text-anchor="middle" font-size="29.7" fill="#000">2500</text>
<text transform="translate(787.5,1050.2) scale(0.9,1)" text-anchor="middle" font-size="29.7" fill="#000">3000</text>
<text transform="translate(900.5,1050.2) scale(0.9,1)" text-anchor="middle" font-size="29.7" fill="#000">3500</text>
<text x="511" y="1082.8" text-anchor="middle" font-size="33.333" fill="#000">Bunch slot</text>
</svg>
</body></html>
